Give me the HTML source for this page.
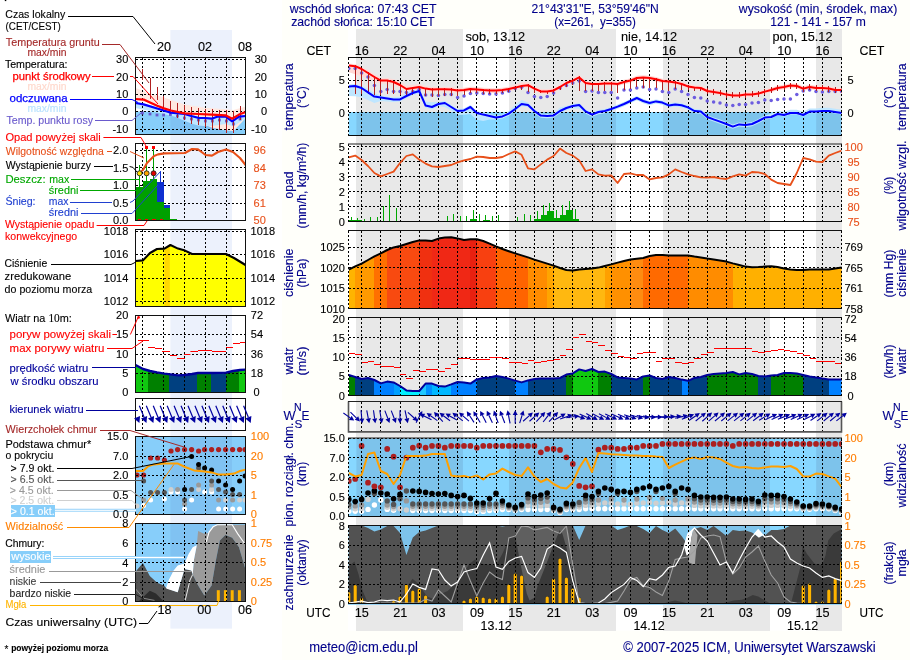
<!DOCTYPE html>
<html lang="pl"><head><meta charset="utf-8"><title>Meteogram ICM</title>
<style>
html,body{margin:0;padding:0;background:#fff;}
body{width:910px;height:660px;overflow:hidden;font-family:"Liberation Sans",sans-serif;}
svg{display:block;font-family:"Liberation Sans",sans-serif;will-change:transform;}
</style></head><body>
<svg width="910" height="660" viewBox="0 0 910 660">
<rect x="0" y="0" width="910" height="660" fill="#FFFFFF"/>
<rect x="282" y="0" width="628" height="660" fill="#FFFFFA"/>
<rect x="4.8" y="0" width="1.5" height="1.1" fill="#000"/>
<rect x="170.4" y="30" width="61.6" height="598.6" fill="#ECF1FC"/>
<rect x="348" y="29" width="494" height="601.5" fill="#FFFFFF"/>
<g shape-rendering="crispEdges">
<rect x="356.4" y="29" width="106.5" height="601.5" fill="#E8E8E8"/>
<rect x="509" y="29" width="107" height="601.5" fill="#E8E8E8"/>
<rect x="663" y="29" width="107" height="601.5" fill="#E8E8E8"/>
<rect x="816.2" y="29" width="25.8" height="601.5" fill="#E8E8E8"/>
</g>
<clipPath id="cT"><rect x="348.5" y="57.5" width="493" height="78"/></clipPath>
<g clip-path="url(#cT)">
<rect x="348.5" y="112" width="493" height="23.5" fill="#87D7FF"/>
<rect x="356.4" y="112" width="106.5" height="23.5" fill="#7DC3EB"/>
<rect x="509" y="112" width="107" height="23.5" fill="#7DC3EB"/>
<rect x="663" y="112" width="107" height="23.5" fill="#7DC3EB"/>
<rect x="816.2" y="112" width="25.3" height="23.5" fill="#7DC3EB"/>
<polygon points="348.8,84.4 355.2,84 361.6,86 368,89 374.4,92.9 380.8,95.4 387.2,96.4 393.6,97.6 400,96.7 406.4,92.9 412.8,90.3 419.2,88.3 425.6,101.5 432,102.2 438.4,102 444.8,101 451.2,105 457.6,109 464,108.4 470.4,105 476.8,111 483.2,112.6 489.6,114 496,115.4 502.4,114.4 508.8,110.9 515.2,105 521.6,100 528,102.5 534.4,109 540.8,113.6 547.2,114 553.6,113.4 560,107.6 566.4,106 572.8,104 579.2,103 585.6,109.4 592,112.6 598.4,110 604.8,109 611.2,107 617.6,104.6 624,102 630.4,99 636.8,96 643.2,99 649.6,101 656,99.4 662.4,100.6 668.8,103.4 675.2,102.4 681.6,103.2 688,105.4 694.4,109 700.8,109.6 707.2,115 713.6,117.4 720,119.6 726.4,122 732.8,124.6 739.2,122.4 745.6,123 752,122 758.4,119 764.8,115.6 771.2,113.8 777.6,110.8 784,111.8 790.4,109.8 796.8,109.8 803.2,111.8 809.6,108.4 816,108.4 822.4,107.8 828.8,107.8 835.2,108.8 841.6,109.8 841.6,114.6 835.2,113.6 828.8,112.6 822.4,112.6 816,113.2 809.6,113.2 803.2,116.6 796.8,114.6 790.4,114.6 784,116.6 777.6,115.6 771.2,118.6 764.8,119.8 758.4,123.2 752,126.2 745.6,127.2 739.2,126.6 732.8,128.8 726.4,126.2 720,123.8 713.6,121.6 707.2,119.2 700.8,113.8 694.4,113.2 688,109.6 681.6,107.4 675.2,106.6 668.8,107.6 662.4,104.8 656,103.6 649.6,105.2 643.2,103.2 636.8,100.2 630.4,103.2 624,106.2 617.6,108.8 611.2,111.2 604.8,113.2 598.4,114.2 592,116.8 585.6,113.6 579.2,108.7 572.8,108.2 566.4,110.2 560,113.2 553.6,117.6 547.2,118.2 540.8,117.8 534.4,113.2 528,107.2 521.6,106.2 515.2,111.2 508.8,115.8 502.4,118.6 496,119.6 489.6,119.4 483.2,121.1 476.8,119.8 470.4,114 464,114.8 457.6,115.1 451.2,110.4 444.8,107.1 438.4,106.2 432,109.2 425.6,107.8 419.2,93.2 412.8,95.2 406.4,98.2 400,101.6 393.6,102.1 387.2,101.4 380.8,101.1 374.4,103.1 368,99.9 361.6,97.3 355.2,96.2 348.8,95.9" fill="#BFE6FF"/>
<polygon points="348.8,63.4 355.2,64.2 361.6,66.8 368,70.3 374.4,74.3 380.8,77.9 387.2,78.1 393.6,79.3 400,81.6 406.4,85.8 412.8,85 419.2,84 425.6,86.3 432,87.1 438.4,86.9 444.8,86.9 451.2,87.1 457.6,88.1 464,87.7 470.4,86.7 476.8,87.1 483.2,87.7 489.6,88.1 496,88.3 502.4,87.7 508.8,86.7 515.2,84.6 521.6,82.6 528,82.2 534.4,86.3 540.8,89.1 547.2,89.3 553.6,88.1 560,84.7 566.4,80.7 572.8,78.3 579.2,75.1 585.6,80.7 592,81.7 598.4,81.7 604.8,81.1 611.2,81.1 617.6,81.7 624,79.7 630.4,78.3 636.8,75.7 643.2,75.3 649.6,75.7 656,76.9 662.4,78.7 668.8,79.3 675.2,80.1 681.6,81.7 688,84.1 694.4,85.3 700.8,85.7 707.2,88.7 713.6,89.7 720,90.7 726.4,92.3 732.8,93.1 739.2,93.1 745.6,92.3 752,92.1 758.4,91.3 764.8,89.3 771.2,87.7 777.6,85.7 784,84.7 790.4,83.3 796.8,83.7 803.2,86.3 809.6,84.7 816,85.7 822.4,85.7 828.8,86.3 835.2,87.7 841.6,87.7 841.6,92.3 835.2,92.3 828.8,90.9 822.4,90.3 816,90.3 809.6,89.3 803.2,90.9 796.8,88.3 790.4,87.9 784,89.3 777.6,90.3 771.2,92.3 764.8,93.9 758.4,95.9 752,96.7 745.6,96.9 739.2,97.7 732.8,97.7 726.4,96.9 720,95.3 713.6,94.3 707.2,93.3 700.8,90.3 694.4,89.9 688,88.7 681.6,86.3 675.2,84.7 668.8,83.9 662.4,83.3 656,81.5 649.6,80.3 643.2,79.9 636.8,80.3 630.4,82.9 624,84.3 617.6,86.3 611.2,85.7 604.8,85.7 598.4,86.3 592,86.3 585.6,85.3 579.2,79.7 572.8,82.9 566.4,85.3 560,89.3 553.6,92.7 547.2,93.9 540.8,93.7 534.4,90.9 528,87.5 521.6,88.3 515.2,89.9 508.8,91.3 502.4,92.3 496,92.9 489.6,92.7 483.2,92.3 476.8,91.7 470.4,91.3 464,92.3 457.6,92.7 451.2,91.7 444.8,91.5 438.4,91.5 432,91.7 425.6,90.9 419.2,89.3 412.8,90.3 406.4,91.3 400,87.8 393.6,84.8 387.2,83.7 380.8,83.4 374.4,81.8 368,78.5 361.6,76.5 355.2,74.2 348.8,72.2" fill="#FFD9D6"/>
</g>
<path d="M361.6 57.5V135.5M380.8 57.5V135.5M400 57.5V135.5M419.2 57.5V135.5M438.4 57.5V135.5M457.6 57.5V135.5M476.8 57.5V135.5M496 57.5V135.5M515.2 57.5V135.5M534.4 57.5V135.5M553.6 57.5V135.5M572.8 57.5V135.5M592 57.5V135.5M611.2 57.5V135.5M630.4 57.5V135.5M649.6 57.5V135.5M668.8 57.5V135.5M688 57.5V135.5M707.2 57.5V135.5M726.4 57.5V135.5M745.6 57.5V135.5M764.8 57.5V135.5M784 57.5V135.5M803.2 57.5V135.5M822.4 57.5V135.5M841.6 57.5V135.5M348.5 80.5H841.5M348.5 112.5H841.5" stroke="#000" stroke-width="1" stroke-dasharray="2 2" fill="none" shape-rendering="crispEdges"/>
<g clip-path="url(#cT)">
<circle cx="348.8" cy="68.6" r="1.75" fill="#6C5CE0"/>
<circle cx="355.2" cy="68.6" r="1.75" fill="#6C5CE0"/>
<circle cx="361.6" cy="73" r="1.75" fill="#6C5CE0"/>
<circle cx="368" cy="77" r="1.75" fill="#6C5CE0"/>
<circle cx="374.4" cy="85.6" r="1.75" fill="#6C5CE0"/>
<circle cx="380.8" cy="91.4" r="1.75" fill="#6C5CE0"/>
<circle cx="387.2" cy="89.4" r="1.75" fill="#6C5CE0"/>
<circle cx="393.6" cy="91.6" r="1.75" fill="#6C5CE0"/>
<circle cx="400" cy="91.6" r="1.75" fill="#6C5CE0"/>
<circle cx="406.4" cy="92.4" r="1.75" fill="#6C5CE0"/>
<circle cx="412.8" cy="91.6" r="1.75" fill="#6C5CE0"/>
<circle cx="419.2" cy="89.4" r="1.75" fill="#6C5CE0"/>
<circle cx="425.6" cy="95" r="1.75" fill="#6C5CE0"/>
<circle cx="432" cy="95" r="1.75" fill="#6C5CE0"/>
<circle cx="438.4" cy="95.4" r="1.75" fill="#6C5CE0"/>
<circle cx="444.8" cy="94.4" r="1.75" fill="#6C5CE0"/>
<circle cx="451.2" cy="94.4" r="1.75" fill="#6C5CE0"/>
<circle cx="457.6" cy="97.4" r="1.75" fill="#6C5CE0"/>
<circle cx="464" cy="96" r="1.75" fill="#6C5CE0"/>
<circle cx="470.4" cy="93.4" r="1.75" fill="#6C5CE0"/>
<circle cx="476.8" cy="93" r="1.75" fill="#6C5CE0"/>
<circle cx="483.2" cy="93.4" r="1.75" fill="#6C5CE0"/>
<circle cx="489.6" cy="94" r="1.75" fill="#6C5CE0"/>
<circle cx="496" cy="94" r="1.75" fill="#6C5CE0"/>
<circle cx="502.4" cy="93" r="1.75" fill="#6C5CE0"/>
<circle cx="508.8" cy="91.2" r="1.75" fill="#6C5CE0"/>
<circle cx="515.2" cy="88.6" r="1.75" fill="#6C5CE0"/>
<circle cx="521.6" cy="87.2" r="1.75" fill="#6C5CE0"/>
<circle cx="528" cy="92.4" r="1.75" fill="#6C5CE0"/>
<circle cx="534.4" cy="96.6" r="1.75" fill="#6C5CE0"/>
<circle cx="540.8" cy="97.4" r="1.75" fill="#6C5CE0"/>
<circle cx="547.2" cy="96.6" r="1.75" fill="#6C5CE0"/>
<circle cx="553.6" cy="93" r="1.75" fill="#6C5CE0"/>
<circle cx="560" cy="88" r="1.75" fill="#6C5CE0"/>
<circle cx="566.4" cy="85.6" r="1.75" fill="#6C5CE0"/>
<circle cx="572.8" cy="83" r="1.75" fill="#6C5CE0"/>
<circle cx="579.2" cy="81" r="1.75" fill="#6C5CE0"/>
<circle cx="585.6" cy="91.4" r="1.75" fill="#6C5CE0"/>
<circle cx="592" cy="91" r="1.75" fill="#6C5CE0"/>
<circle cx="598.4" cy="92.4" r="1.75" fill="#6C5CE0"/>
<circle cx="604.8" cy="92.4" r="1.75" fill="#6C5CE0"/>
<circle cx="611.2" cy="92.4" r="1.75" fill="#6C5CE0"/>
<circle cx="617.6" cy="98" r="1.75" fill="#6C5CE0"/>
<circle cx="624" cy="90" r="1.75" fill="#6C5CE0"/>
<circle cx="630.4" cy="90" r="1.75" fill="#6C5CE0"/>
<circle cx="636.8" cy="88" r="1.75" fill="#6C5CE0"/>
<circle cx="643.2" cy="87" r="1.75" fill="#6C5CE0"/>
<circle cx="649.6" cy="89.4" r="1.75" fill="#6C5CE0"/>
<circle cx="656" cy="89" r="1.75" fill="#6C5CE0"/>
<circle cx="662.4" cy="91.4" r="1.75" fill="#6C5CE0"/>
<circle cx="668.8" cy="92.6" r="1.75" fill="#6C5CE0"/>
<circle cx="675.2" cy="89" r="1.75" fill="#6C5CE0"/>
<circle cx="681.6" cy="91.6" r="1.75" fill="#6C5CE0"/>
<circle cx="688" cy="94.4" r="1.75" fill="#6C5CE0"/>
<circle cx="694.4" cy="97.4" r="1.75" fill="#6C5CE0"/>
<circle cx="700.8" cy="98" r="1.75" fill="#6C5CE0"/>
<circle cx="707.2" cy="101" r="1.75" fill="#6C5CE0"/>
<circle cx="713.6" cy="102" r="1.75" fill="#6C5CE0"/>
<circle cx="720" cy="103" r="1.75" fill="#6C5CE0"/>
<circle cx="726.4" cy="105" r="1.75" fill="#6C5CE0"/>
<circle cx="732.8" cy="105.4" r="1.75" fill="#6C5CE0"/>
<circle cx="739.2" cy="104.6" r="1.75" fill="#6C5CE0"/>
<circle cx="745.6" cy="104.4" r="1.75" fill="#6C5CE0"/>
<circle cx="752" cy="103" r="1.75" fill="#6C5CE0"/>
<circle cx="758.4" cy="102.4" r="1.75" fill="#6C5CE0"/>
<circle cx="764.8" cy="100" r="1.75" fill="#6C5CE0"/>
<circle cx="771.2" cy="100.4" r="1.75" fill="#6C5CE0"/>
<circle cx="777.6" cy="99.4" r="1.75" fill="#6C5CE0"/>
<circle cx="784" cy="99" r="1.75" fill="#6C5CE0"/>
<circle cx="790.4" cy="99" r="1.75" fill="#6C5CE0"/>
<circle cx="796.8" cy="94.4" r="1.75" fill="#6C5CE0"/>
<circle cx="803.2" cy="91" r="1.75" fill="#6C5CE0"/>
<circle cx="809.6" cy="90" r="1.75" fill="#6C5CE0"/>
<circle cx="816" cy="91.4" r="1.75" fill="#6C5CE0"/>
<circle cx="822.4" cy="92" r="1.75" fill="#6C5CE0"/>
<circle cx="828.8" cy="91.4" r="1.75" fill="#6C5CE0"/>
<circle cx="835.2" cy="91.4" r="1.75" fill="#6C5CE0"/>
<circle cx="841.6" cy="91.4" r="1.75" fill="#6C5CE0"/>
<path d="M355.5 65.2V94M361.5 68V94M368.5 72V94M374.5 76V95M380.5 79.6V95M387.5 79.6V94.4M393.5 81V94.4M400.5 84V95M406.5 88V96M412.5 87V95M419.5 86V93M425.5 87.6V96M432.5 88.4V97M438.5 88.2V96M444.5 88.2V95.6M451.5 88.4V96M457.5 89.4V96M464.5 89V95M470.5 88V93M476.5 88.4V93M483.5 89V94M489.5 89.4V94M496.5 89.6V94M502.5 89V93M508.5 88V92M515.5 86.6V90M521.5 85V90M528.5 84.2V92M534.5 87.6V93M540.5 90.4V93.4M547.5 90.6V93.6M553.5 89.4V93M560.5 86V90M566.5 82V87M572.5 79.6V85M579.5 76.4V91M585.5 82V91M592.5 83V91M598.5 83V91M604.5 82.4V91M611.5 82.4V91M617.5 83V93M624.5 81V90M630.5 79.6V89M636.5 77V87M643.5 76.6V88M649.5 77V88M656.5 78.2V88M662.5 80V90M668.5 80.6V91M675.5 81.4V89M681.5 83V90M688.5 85.4V90M694.5 86.6V91M700.5 87V91M707.5 88V94M713.5 89V95M720.5 90V96M726.5 91.6V97.6M732.5 92.4V98.4M739.5 92.4V98.4M745.5 91.6V97.6M752.5 91.4V97.4M758.5 90.6V96.6M764.5 88.6V94.6M771.5 87V93M777.5 85V91M784.5 84V90M790.5 82.6V88.6M796.5 83V89M803.5 85.6V91.6M809.5 84V90M816.5 85V91M822.5 85V91M828.5 85.6V91.6M835.5 87V93M841.5 87V93" stroke="#B02020" stroke-width="1" fill="none" shape-rendering="crispEdges"/>
<polyline points="348.8,86.4 355.2,86 361.6,88 368,92.4 374.4,96.6 380.8,97.4 387.2,98.4 393.6,99.6 400,99.4 406.4,96 412.8,93 419.2,91 425.6,105.6 432,107 438.4,104 444.8,103 451.2,107 457.6,111 464,110.4 470.4,107 476.8,113 483.2,114.6 489.6,116 496,117.4 502.4,116.4 508.8,113.6 515.2,109 521.6,104 528,105 534.4,111 540.8,115.6 547.2,116 553.6,115.4 560,111 566.4,108 572.8,106 579.2,105 585.6,111.4 592,114.6 598.4,112 604.8,111 611.2,109 617.6,106.6 624,104 630.4,101 636.8,98 643.2,101 649.6,103 656,101.4 662.4,102.6 668.8,105.4 675.2,104.4 681.6,105.2 688,107.4 694.4,111 700.8,111.6 707.2,117 713.6,119.4 720,121.6 726.4,124 732.8,126.6 739.2,124.4 745.6,125 752,124 758.4,121 764.8,117.6 771.2,117 777.6,114 784,115 790.4,113 796.8,113 803.2,115 809.6,111.6 816,111.6 822.4,111 828.8,111 835.2,112 841.6,113" fill="none" stroke="#0000FF" stroke-width="2" stroke-linejoin="round"/>
<polyline points="348.8,65.4 355.2,66.2 361.6,69 368,73 374.4,77 380.8,80.6 387.2,80.6 393.6,82 400,85 406.4,89 412.8,88 419.2,87 425.6,88.6 432,89.4 438.4,89.2 444.8,89.2 451.2,89.4 457.6,90.4 464,90 470.4,89 476.8,89.4 483.2,90 489.6,90.4 496,90.6 502.4,90 508.8,89 515.2,87.6 521.6,86 528,85.2 534.4,88.6 540.8,91.4 547.2,91.6 553.6,90.4 560,87 566.4,83 572.8,80.6 579.2,77.4 585.6,83 592,84 598.4,84 604.8,83.4 611.2,83.4 617.6,84 624,82 630.4,80.6 636.8,78 643.2,77.6 649.6,78 656,79.2 662.4,81 668.8,81.6 675.2,82.4 681.6,84 688,86.4 694.4,87.6 700.8,88 707.2,91 713.6,92 720,93 726.4,94.6 732.8,95.4 739.2,95.4 745.6,94.6 752,94.4 758.4,93.6 764.8,91.6 771.2,90 777.6,88 784,87 790.4,85.6 796.8,86 803.2,88.6 809.6,87 816,88 822.4,88 828.8,88.6 835.2,90 841.6,90" fill="none" stroke="#FF0000" stroke-width="2" stroke-linejoin="round"/>
</g>
<path d="M348.5 57.5V135.5M841.5 57.5V135.5" stroke="#000" stroke-width="1" stroke-dasharray="2 2" fill="none" shape-rendering="crispEdges"/>
<path d="M348 57.5H842" stroke="#111" stroke-width="1" fill="none" shape-rendering="crispEdges"/>
<path d="M348 135.5H842" stroke="#0a0a0a" stroke-width="1" fill="none" shape-rendering="crispEdges"/>
<clipPath id="cP"><rect x="348.5" y="143.5" width="493" height="78"/></clipPath>
<path d="M361.6 143.5V221.5M380.8 143.5V221.5M400 143.5V221.5M419.2 143.5V221.5M438.4 143.5V221.5M457.6 143.5V221.5M476.8 143.5V221.5M496 143.5V221.5M515.2 143.5V221.5M534.4 143.5V221.5M553.6 143.5V221.5M572.8 143.5V221.5M592 143.5V221.5M611.2 143.5V221.5M630.4 143.5V221.5M649.6 143.5V221.5M668.8 143.5V221.5M688 143.5V221.5M707.2 143.5V221.5M726.4 143.5V221.5M745.6 143.5V221.5M764.8 143.5V221.5M784 143.5V221.5M803.2 143.5V221.5M822.4 143.5V221.5M841.6 143.5V221.5M348.5 146.5H841.5M348.5 161.5H841.5M348.5 176.5H841.5M348.5 191.5H841.5M348.5 206.5H841.5" stroke="#000" stroke-width="1" stroke-dasharray="2 2" fill="none" shape-rendering="crispEdges"/>
<g clip-path="url(#cP)">
<rect x="348.8" y="220" width="6.4" height="1.5" fill="#00A800" shape-rendering="crispEdges"/>
<rect x="355.2" y="220.4" width="6.4" height="1.1" fill="#00A800" shape-rendering="crispEdges"/>
<rect x="470.4" y="219.4" width="6.4" height="2.1" fill="#00A800" shape-rendering="crispEdges"/>
<rect x="483.2" y="220.4" width="6.4" height="1.1" fill="#00A800" shape-rendering="crispEdges"/>
<rect x="534.4" y="219" width="6.4" height="2.5" fill="#00A800" shape-rendering="crispEdges"/>
<rect x="540.8" y="215" width="6.4" height="6.5" fill="#00A800" shape-rendering="crispEdges"/>
<rect x="547.2" y="211" width="6.4" height="10.5" fill="#00A800" shape-rendering="crispEdges"/>
<rect x="553.6" y="218" width="6.4" height="3.5" fill="#00A800" shape-rendering="crispEdges"/>
<rect x="560" y="215" width="6.4" height="6.5" fill="#00A800" shape-rendering="crispEdges"/>
<rect x="566.4" y="210" width="6.4" height="11.5" fill="#00A800" shape-rendering="crispEdges"/>
<rect x="572.8" y="219" width="6.4" height="2.5" fill="#00A800" shape-rendering="crispEdges"/>
<path d="M351.5 217.4V221.5M357.5 218V221.5M364.5 218.6V221.5M370.5 217.4V221.5M377.5 217.4V221.5M383.5 206V221.5M389.5 195.4V221.5M396.5 208.4V221.5M447.5 216.4V221.5M453.5 214.4V221.5M460.5 216.4V221.5M466.5 216.4V221.5M473.5 210.4V221.5M479.5 214.4V221.5M485.5 215.4V221.5M492.5 216.4V221.5M498.5 215.4V221.5M517.5 217.4V221.5M524.5 214.4V221.5M530.5 215.4V221.5M537.5 211.4V221.5M543.5 205V221.5M549.5 203.4V221.5M556.5 210.4V221.5M562.5 205.4V221.5M569.5 201V221.5M575.5 209.4V221.5" stroke="#00A800" stroke-width="1" fill="none" shape-rendering="crispEdges"/>
<polyline points="348.8,157.4 355.2,155.6 361.6,160 368,166 374.4,173 380.8,176.4 387.2,174 393.6,171.6 400,163 406.4,156 412.8,154.4 419.2,159.6 425.6,163.6 432,166.4 438.4,167 444.8,166 451.2,165 457.6,162.4 464,160.4 470.4,159 476.8,156.6 483.2,157 489.6,158 496,158 502.4,157 508.8,154 515.2,151.4 521.6,154.8 528,168.4 534.4,169.4 540.8,164.4 547.2,159.6 553.6,156 560,148.6 566.4,153 572.8,155.6 579.2,160.4 585.6,171 592,169.4 598.4,174.4 604.8,175.6 611.2,175.4 617.6,183 624,174 630.4,173.4 636.8,175 643.2,175 649.6,179.4 656,178 662.4,177.4 668.8,174.4 675.2,169.4 681.6,172 688,174.4 694.4,176 700.8,177.4 707.2,177.6 713.6,177 720,178.4 726.4,179 732.8,176.4 739.2,174.4 745.6,175.6 752,172 758.4,172.4 764.8,174 771.2,179.6 777.6,183 784,184 790.4,185 796.8,173 803.2,158 809.6,159.4 816,161.6 822.4,162 828.8,155.6 835.2,153 841.6,150.6" fill="none" stroke="#E8501A" stroke-width="1.8" stroke-linejoin="round"/>
</g>
<path d="M348.5 143.5V221.5M841.5 143.5V221.5" stroke="#000" stroke-width="1" stroke-dasharray="2 2" fill="none" shape-rendering="crispEdges"/>
<path d="M348 144H842" stroke="#222" stroke-width="1.1" fill="none"/>
<path d="M348 221.5H842" stroke="#0a0a0a" stroke-width="1" fill="none" shape-rendering="crispEdges"/>
<clipPath id="cQ"><polygon points="348.5,308.5 348.8,269.6 355.2,266.4 361.6,263.6 368,260 374.4,256.4 380.8,253.4 387.2,250 393.6,247.4 400,246 406.4,244 412.8,242 419.2,240.4 425.6,240.6 432,241 438.4,238.6 444.8,237.6 451.2,237.2 457.6,238.4 464,240 470.4,239.2 476.8,239.2 483.2,241 489.6,243.6 496,246.4 502.4,249 508.8,251.2 515.2,253.4 521.6,255.4 528,257.4 534.4,259.6 540.8,261.6 547.2,263.6 553.6,265.6 560,268 566.4,270 572.8,270.6 579.2,269.6 585.6,269 592,268.4 598.4,267.6 604.8,266 611.2,264.4 617.6,262.6 624,261 630.4,259.6 636.8,258.8 643.2,258 649.6,256 656,255 662.4,255 668.8,255.4 675.2,255.6 681.6,255.4 688,255.6 694.4,256.6 700.8,257.4 707.2,258.6 713.6,259.4 720,260.4 726.4,261.6 732.8,263.4 739.2,265 745.6,266.6 752,267.2 758.4,267 764.8,266.6 771.2,266.2 777.6,267 784,268.4 790.4,269.4 796.8,270 803.2,270 809.6,269.6 816,269.4 822.4,269.6 828.8,269.4 835.2,268.4 841.6,267.4 841.5,308.5"/></clipPath>
<g clip-path="url(#cQ)" shape-rendering="crispEdges">
<rect x="348.8" y="230.5" width="6.9" height="78" fill="#FFB400"/>
<rect x="355.2" y="230.5" width="19.7" height="78" fill="#FF9A00"/>
<rect x="374.4" y="230.5" width="13.3" height="78" fill="#FF7000"/>
<rect x="387.2" y="230.5" width="32.5" height="78" fill="#F84A10"/>
<rect x="419.2" y="230.5" width="13.3" height="78" fill="#F03010"/>
<rect x="432" y="230.5" width="38.9" height="78" fill="#F02815"/>
<rect x="470.4" y="230.5" width="6.9" height="78" fill="#E82010"/>
<rect x="476.8" y="230.5" width="19.7" height="78" fill="#F84010"/>
<rect x="496" y="230.5" width="32.5" height="78" fill="#FF6400"/>
<rect x="528" y="230.5" width="19.7" height="78" fill="#FF8C00"/>
<rect x="547.2" y="230.5" width="6.9" height="78" fill="#FFA500"/>
<rect x="553.6" y="230.5" width="51.7" height="78" fill="#FFB810"/>
<rect x="604.8" y="230.5" width="6.9" height="78" fill="#FFA000"/>
<rect x="611.2" y="230.5" width="19.7" height="78" fill="#FF9000"/>
<rect x="630.4" y="230.5" width="13.3" height="78" fill="#FF8C10"/>
<rect x="643.2" y="230.5" width="45.3" height="78" fill="#FF6A00"/>
<rect x="688" y="230.5" width="45.3" height="78" fill="#FF8C00"/>
<rect x="732.8" y="230.5" width="115.7" height="78" fill="#FFB000"/>
</g>
<path d="M361.6 230.5V308.5M380.8 230.5V308.5M400 230.5V308.5M419.2 230.5V308.5M438.4 230.5V308.5M457.6 230.5V308.5M476.8 230.5V308.5M496 230.5V308.5M515.2 230.5V308.5M534.4 230.5V308.5M553.6 230.5V308.5M572.8 230.5V308.5M592 230.5V308.5M611.2 230.5V308.5M630.4 230.5V308.5M649.6 230.5V308.5M668.8 230.5V308.5M688 230.5V308.5M707.2 230.5V308.5M726.4 230.5V308.5M745.6 230.5V308.5M764.8 230.5V308.5M784 230.5V308.5M803.2 230.5V308.5M822.4 230.5V308.5M841.6 230.5V308.5M348.5 247.5H841.5M348.5 267.5H841.5M348.5 288.5H841.5" stroke="#000" stroke-width="1" stroke-dasharray="2 2" fill="none" shape-rendering="crispEdges"/>
<polyline points="348.8,269.6 355.2,266.4 361.6,263.6 368,260 374.4,256.4 380.8,253.4 387.2,250 393.6,247.4 400,246 406.4,244 412.8,242 419.2,240.4 425.6,240.6 432,241 438.4,238.6 444.8,237.6 451.2,237.2 457.6,238.4 464,240 470.4,239.2 476.8,239.2 483.2,241 489.6,243.6 496,246.4 502.4,249 508.8,251.2 515.2,253.4 521.6,255.4 528,257.4 534.4,259.6 540.8,261.6 547.2,263.6 553.6,265.6 560,268 566.4,270 572.8,270.6 579.2,269.6 585.6,269 592,268.4 598.4,267.6 604.8,266 611.2,264.4 617.6,262.6 624,261 630.4,259.6 636.8,258.8 643.2,258 649.6,256 656,255 662.4,255 668.8,255.4 675.2,255.6 681.6,255.4 688,255.6 694.4,256.6 700.8,257.4 707.2,258.6 713.6,259.4 720,260.4 726.4,261.6 732.8,263.4 739.2,265 745.6,266.6 752,267.2 758.4,267 764.8,266.6 771.2,266.2 777.6,267 784,268.4 790.4,269.4 796.8,270 803.2,270 809.6,269.6 816,269.4 822.4,269.6 828.8,269.4 835.2,268.4 841.6,267.4" fill="none" stroke="#000" stroke-width="2" stroke-linejoin="round"/>
<path d="M348.5 230.5V308.5M841.5 230.5V308.5" stroke="#000" stroke-width="1" stroke-dasharray="2 2" fill="none" shape-rendering="crispEdges"/>
<path d="M348 230.5H842" stroke="#111" stroke-width="1" fill="none" shape-rendering="crispEdges"/>
<path d="M348 308.5H842" stroke="#0a0a0a" stroke-width="1" fill="none" shape-rendering="crispEdges"/>
<clipPath id="cW"><polygon points="348.5,395.5 348.8,375 355.2,377 361.6,379 368,378 374.4,380 380.8,383.4 387.2,381.6 393.6,382.4 400,386 406.4,390.4 412.8,391 419.2,391 425.6,383.6 432,383.6 438.4,386 444.8,386.6 451.2,384.4 457.6,382 464,382.6 470.4,383.6 476.8,379.4 483.2,378 489.6,377.4 496,376 502.4,377 508.8,378.6 515.2,380.6 521.6,382.4 528,380.4 534.4,379 540.8,378.6 547.2,378.6 553.6,378.4 560,378 566.4,374.6 572.8,373.4 579.2,369.4 585.6,371 592,369 598.4,372 604.8,371.6 611.2,374 617.6,377.4 624,378 630.4,378.6 636.8,379.4 643.2,376.4 649.6,375.4 656,378 662.4,379 668.8,377 675.2,378 681.6,379.6 688,380.8 694.4,378 700.8,377 707.2,375 713.6,374 720,373.4 726.4,373 732.8,372 739.2,374.4 745.6,373 752,374 758.4,376 764.8,376.4 771.2,375.6 777.6,375 784,373 790.4,373 796.8,373.6 803.2,375 809.6,376.4 816,377.4 822.4,378.6 828.8,379.4 835.2,379.6 841.6,379.4 841.5,395.5"/></clipPath>
<g clip-path="url(#cW)" shape-rendering="crispEdges">
<rect x="348.8" y="317.5" width="6.9" height="78" fill="#008000"/>
<rect x="355.2" y="317.5" width="19.7" height="78" fill="#004080"/>
<rect x="374.4" y="317.5" width="19.7" height="78" fill="#0080FF"/>
<rect x="393.6" y="317.5" width="6.9" height="78" fill="#00A0FF"/>
<rect x="400" y="317.5" width="19.7" height="78" fill="#00F0FF"/>
<rect x="419.2" y="317.5" width="6.9" height="78" fill="#20C8FF"/>
<rect x="425.6" y="317.5" width="6.9" height="78" fill="#0090FF"/>
<rect x="432" y="317.5" width="19.7" height="78" fill="#00B8FF"/>
<rect x="451.2" y="317.5" width="26.1" height="78" fill="#0080FF"/>
<rect x="476.8" y="317.5" width="38.9" height="78" fill="#004080"/>
<rect x="515.2" y="317.5" width="13.3" height="78" fill="#0080FF"/>
<rect x="528" y="317.5" width="38.9" height="78" fill="#004080"/>
<rect x="566.4" y="317.5" width="6.9" height="78" fill="#008000"/>
<rect x="572.8" y="317.5" width="26.1" height="78" fill="#10C810"/>
<rect x="598.4" y="317.5" width="13.3" height="78" fill="#008000"/>
<rect x="611.2" y="317.5" width="32.5" height="78" fill="#004080"/>
<rect x="643.2" y="317.5" width="6.9" height="78" fill="#008000"/>
<rect x="649.6" y="317.5" width="32.5" height="78" fill="#004080"/>
<rect x="681.6" y="317.5" width="6.9" height="78" fill="#0080FF"/>
<rect x="688" y="317.5" width="19.7" height="78" fill="#004080"/>
<rect x="707.2" y="317.5" width="51.7" height="78" fill="#008000"/>
<rect x="758.4" y="317.5" width="13.3" height="78" fill="#004080"/>
<rect x="771.2" y="317.5" width="32.5" height="78" fill="#008000"/>
<rect x="803.2" y="317.5" width="26.1" height="78" fill="#004080"/>
<rect x="828.8" y="317.5" width="19.7" height="78" fill="#0080FF"/>
</g>
<path d="M361.6 317.5V395.5M380.8 317.5V395.5M400 317.5V395.5M419.2 317.5V395.5M438.4 317.5V395.5M457.6 317.5V395.5M476.8 317.5V395.5M496 317.5V395.5M515.2 317.5V395.5M534.4 317.5V395.5M553.6 317.5V395.5M572.8 317.5V395.5M592 317.5V395.5M611.2 317.5V395.5M630.4 317.5V395.5M649.6 317.5V395.5M668.8 317.5V395.5M688 317.5V395.5M707.2 317.5V395.5M726.4 317.5V395.5M745.6 317.5V395.5M764.8 317.5V395.5M784 317.5V395.5M803.2 317.5V395.5M822.4 317.5V395.5M841.6 317.5V395.5M348.5 337.5H841.5M348.5 357.5H841.5M348.5 376.5H841.5" stroke="#000" stroke-width="1" stroke-dasharray="2 2" fill="none" shape-rendering="crispEdges"/>
<polyline points="348.8,375 355.2,377 361.6,379 368,378 374.4,380 380.8,383.4 387.2,381.6 393.6,382.4 400,386 406.4,390.4 412.8,391 419.2,391 425.6,383.6 432,383.6 438.4,386 444.8,386.6 451.2,384.4 457.6,382 464,382.6 470.4,383.6 476.8,379.4 483.2,378 489.6,377.4 496,376 502.4,377 508.8,378.6 515.2,380.6 521.6,382.4 528,380.4 534.4,379 540.8,378.6 547.2,378.6 553.6,378.4 560,378 566.4,374.6 572.8,373.4 579.2,369.4 585.6,371 592,369 598.4,372 604.8,371.6 611.2,374 617.6,377.4 624,378 630.4,378.6 636.8,379.4 643.2,376.4 649.6,375.4 656,378 662.4,379 668.8,377 675.2,378 681.6,379.6 688,380.8 694.4,378 700.8,377 707.2,375 713.6,374 720,373.4 726.4,373 732.8,372 739.2,374.4 745.6,373 752,374 758.4,376 764.8,376.4 771.2,375.6 777.6,375 784,373 790.4,373 796.8,373.6 803.2,375 809.6,376.4 816,377.4 822.4,378.6 828.8,379.4 835.2,379.6 841.6,379.4" fill="none" stroke="#00009C" stroke-width="2" stroke-linejoin="round"/>
<path d="M348.8 353.5H355.2M355.2 354.5H361.6M361.6 362.5H368M368 361.5H374.4M374.4 364.5H380.8M380.8 366.5H387.2M387.2 366.5H393.6M393.6 367.5H400M400 374.5H406.4M406.4 378.5H412.8M412.8 370.5H419.2M419.2 371.5H425.6M425.6 369.5H432M432 369.5H438.4M438.4 371.5H444.8M444.8 368.5H451.2M451.2 364.5H457.6M457.6 358.5H464M464 358.5H470.4M470.4 359.5H476.8M476.8 359.5H483.2M483.2 359.5H489.6M489.6 357.5H496M496 357.5H502.4M502.4 358.5H508.8M508.8 362.5H515.2M515.2 362.5H521.6M521.6 363.5H528M528 360.5H534.4M534.4 362.5H540.8M540.8 361.5H547.2M547.2 360.5H553.6M553.6 359.5H560M560 355.5H566.4M566.4 349.5H572.8M572.8 337.5H579.2M579.2 334.5H585.6M585.6 341.5H592M592 342.5H598.4M598.4 345.5H604.8M604.8 350.5H611.2M611.2 353.5H617.6M617.6 356.5H624M624 357.5H630.4M630.4 358.5H636.8M636.8 353.5H643.2M643.2 352.5H649.6M649.6 352.5H656M656 361.5H662.4M662.4 358.5H668.8M668.8 358.5H675.2M675.2 362.5H681.6M681.6 363.5H688M688 362.5H694.4M694.4 358.5H700.8M700.8 354.5H707.2M707.2 352.5H713.6M713.6 348.5H720M720 348.5H726.4M726.4 348.5H732.8M732.8 348.5H739.2M739.2 348.5H745.6M745.6 348.5H752M752 351.5H758.4M758.4 352.5H764.8M764.8 351.5H771.2M771.2 350.5H777.6M777.6 349.5H784M784 350.5H790.4M790.4 351.5H796.8M796.8 353.5H803.2M803.2 355.5H809.6M809.6 358.5H816M816 361.5H822.4M822.4 361.5H828.8M828.8 361.5H835.2M835.2 363.5H841.6" stroke="#FF0000" stroke-width="1" fill="none" shape-rendering="crispEdges"/>
<path d="M348.5 317.5V395.5M841.5 317.5V395.5" stroke="#000" stroke-width="1" stroke-dasharray="2 2" fill="none" shape-rendering="crispEdges"/>
<path d="M348 317.5H842" stroke="#111" stroke-width="1" fill="none" shape-rendering="crispEdges"/>
<path d="M348 395.5H842" stroke="#0a0a0a" stroke-width="1" fill="none" shape-rendering="crispEdges"/>
<path d="M361.6 401.5V432M380.8 401.5V432M400 401.5V432M419.2 401.5V432M438.4 401.5V432M457.6 401.5V432M476.8 401.5V432M496 401.5V432M515.2 401.5V432M534.4 401.5V432M553.6 401.5V432M572.8 401.5V432M592 401.5V432M611.2 401.5V432M630.4 401.5V432M649.6 401.5V432M668.8 401.5V432M688 401.5V432M707.2 401.5V432M726.4 401.5V432M745.6 401.5V432M764.8 401.5V432M784 401.5V432M803.2 401.5V432M822.4 401.5V432M841.6 401.5V432" stroke="#000" stroke-width="1" stroke-dasharray="2 2" fill="none" shape-rendering="crispEdges"/>
<path d="M348.5 401.5V431.9H841.5V401.5" stroke="#555" stroke-width="1.6" fill="none"/>
<path d="M348 401.5H842" stroke="#222" stroke-width="1" fill="none" shape-rendering="crispEdges"/>
<line x1="343.39" y1="413.01" x2="350.27" y2="417.83" stroke="#0000A0" stroke-width="1.1"/>
<polygon points="354.21,420.59 348.84,419.88 351.71,415.78" fill="#0000A0"/>
<line x1="350.45" y1="412.22" x2="356.49" y2="418.05" stroke="#0000A0" stroke-width="1.1"/>
<polygon points="359.95,421.38 354.76,419.85 358.23,416.25" fill="#0000A0"/>
<line x1="361.02" y1="410.23" x2="361.76" y2="418.59" stroke="#0000A0" stroke-width="1.1"/>
<polygon points="362.18,423.37 359.27,418.81 364.25,418.38" fill="#0000A0"/>
<line x1="366.74" y1="410.32" x2="368.34" y2="418.57" stroke="#0000A0" stroke-width="1.1"/>
<polygon points="369.26,423.28 365.89,419.04 370.8,418.09" fill="#0000A0"/>
<line x1="373.48" y1="410.26" x2="374.65" y2="418.58" stroke="#0000A0" stroke-width="1.1"/>
<polygon points="375.32,423.34 372.17,418.93 377.13,418.23" fill="#0000A0"/>
<line x1="379.77" y1="410.28" x2="381.08" y2="418.58" stroke="#0000A0" stroke-width="1.1"/>
<polygon points="381.83,423.32 378.61,418.97 383.55,418.19" fill="#0000A0"/>
<line x1="384.83" y1="410.64" x2="387.85" y2="418.48" stroke="#0000A0" stroke-width="1.1"/>
<polygon points="389.57,422.96 385.51,419.38 390.18,417.58" fill="#0000A0"/>
<line x1="391.23" y1="410.64" x2="394.25" y2="418.48" stroke="#0000A0" stroke-width="1.1"/>
<polygon points="395.97,422.96 391.91,419.38 396.58,417.58" fill="#0000A0"/>
<line x1="400" y1="410.2" x2="400" y2="418.6" stroke="#0000A0" stroke-width="1.1"/>
<polygon points="400,423.4 397.5,418.6 402.5,418.6" fill="#0000A0"/>
<line x1="405.03" y1="410.34" x2="406.77" y2="418.56" stroke="#0000A0" stroke-width="1.1"/>
<polygon points="407.77,423.26 404.33,419.08 409.22,418.04" fill="#0000A0"/>
<line x1="407.9" y1="412.38" x2="414.14" y2="418" stroke="#0000A0" stroke-width="1.1"/>
<polygon points="417.7,421.22 412.46,419.86 415.81,416.15" fill="#0000A0"/>
<line x1="416.1" y1="422.63" x2="420.05" y2="415.21" stroke="#0000A0" stroke-width="1.1"/>
<polygon points="422.3,410.97 422.25,416.38 417.84,414.04" fill="#0000A0"/>
<line x1="431.48" y1="419.8" x2="424" y2="415.98" stroke="#0000A0" stroke-width="1.1"/>
<polygon points="419.72,413.8 425.13,413.76 422.86,418.21" fill="#0000A0"/>
<line x1="437.41" y1="420.59" x2="430.53" y2="415.77" stroke="#0000A0" stroke-width="1.1"/>
<polygon points="426.59,413.01 431.96,413.72 429.09,417.82" fill="#0000A0"/>
<line x1="442.82" y1="421.7" x2="437.2" y2="415.46" stroke="#0000A0" stroke-width="1.1"/>
<polygon points="433.98,411.9 439.05,413.79 435.34,417.14" fill="#0000A0"/>
<line x1="450.07" y1="420.77" x2="443.36" y2="415.72" stroke="#0000A0" stroke-width="1.1"/>
<polygon points="439.53,412.83 444.87,413.72 441.86,417.71" fill="#0000A0"/>
<line x1="456.92" y1="420.1" x2="449.64" y2="415.9" stroke="#0000A0" stroke-width="1.1"/>
<polygon points="445.48,413.5 450.89,413.73 448.39,418.07" fill="#0000A0"/>
<line x1="462.8" y1="420.86" x2="456.18" y2="415.69" stroke="#0000A0" stroke-width="1.1"/>
<polygon points="452.4,412.74 457.72,413.72 454.64,417.66" fill="#0000A0"/>
<line x1="468.98" y1="421.13" x2="462.64" y2="415.62" stroke="#0000A0" stroke-width="1.1"/>
<polygon points="459.02,412.47 464.28,413.73 461,417.51" fill="#0000A0"/>
<line x1="473.99" y1="422.34" x2="469.42" y2="415.29" stroke="#0000A0" stroke-width="1.1"/>
<polygon points="466.81,411.26 471.52,413.93 467.32,416.65" fill="#0000A0"/>
<line x1="480.2" y1="422.46" x2="475.87" y2="415.26" stroke="#0000A0" stroke-width="1.1"/>
<polygon points="473.4,411.14 478.02,413.97 473.73,416.54" fill="#0000A0"/>
<line x1="486.2" y1="422.68" x2="482.38" y2="415.2" stroke="#0000A0" stroke-width="1.1"/>
<polygon points="480.2,410.92 484.61,414.06 480.16,416.33" fill="#0000A0"/>
<line x1="492.39" y1="422.78" x2="488.84" y2="415.17" stroke="#0000A0" stroke-width="1.1"/>
<polygon points="486.81,410.82 491.11,414.11 486.57,416.23" fill="#0000A0"/>
<line x1="498.15" y1="423.04" x2="495.41" y2="415.1" stroke="#0000A0" stroke-width="1.1"/>
<polygon points="493.85,410.56 497.78,414.28 493.05,415.91" fill="#0000A0"/>
<line x1="504.77" y1="422.96" x2="501.75" y2="415.12" stroke="#0000A0" stroke-width="1.1"/>
<polygon points="500.03,410.64 504.09,414.22 499.42,416.02" fill="#0000A0"/>
<line x1="510.06" y1="423.28" x2="508.46" y2="415.03" stroke="#0000A0" stroke-width="1.1"/>
<polygon points="507.54,410.32 510.91,414.56 506,415.51" fill="#0000A0"/>
<line x1="515.2" y1="423.4" x2="515.2" y2="415" stroke="#0000A0" stroke-width="1.1"/>
<polygon points="515.2,410.2 517.7,415 512.7,415" fill="#0000A0"/>
<line x1="519.67" y1="423.11" x2="522.13" y2="415.08" stroke="#0000A0" stroke-width="1.1"/>
<polygon points="523.53,410.49 524.52,415.81 519.74,414.35" fill="#0000A0"/>
<line x1="523.1" y1="421.22" x2="529.34" y2="415.6" stroke="#0000A0" stroke-width="1.1"/>
<polygon points="532.9,412.38 531.01,417.45 527.66,413.74" fill="#0000A0"/>
<line x1="529.5" y1="421.22" x2="535.74" y2="415.6" stroke="#0000A0" stroke-width="1.1"/>
<polygon points="539.3,412.38 537.41,417.45 534.06,413.74" fill="#0000A0"/>
<line x1="536.3" y1="421.63" x2="542.03" y2="415.48" stroke="#0000A0" stroke-width="1.1"/>
<polygon points="545.3,411.97 543.86,417.19 540.2,413.78" fill="#0000A0"/>
<line x1="543.14" y1="422" x2="548.31" y2="415.38" stroke="#0000A0" stroke-width="1.1"/>
<polygon points="551.26,411.6 550.28,416.92 546.34,413.84" fill="#0000A0"/>
<line x1="549.02" y1="421.55" x2="554.85" y2="415.51" stroke="#0000A0" stroke-width="1.1"/>
<polygon points="558.18,412.05 556.65,417.24 553.05,413.77" fill="#0000A0"/>
<line x1="554.28" y1="420.1" x2="561.56" y2="415.9" stroke="#0000A0" stroke-width="1.1"/>
<polygon points="565.72,413.5 562.81,418.07 560.31,413.73" fill="#0000A0"/>
<line x1="560.16" y1="418.95" x2="568.1" y2="416.21" stroke="#0000A0" stroke-width="1.1"/>
<polygon points="572.64,414.65 568.92,418.58 567.29,413.85" fill="#0000A0"/>
<line x1="566.26" y1="417.72" x2="574.58" y2="416.55" stroke="#0000A0" stroke-width="1.1"/>
<polygon points="579.34,415.88 574.93,419.03 574.23,414.07" fill="#0000A0"/>
<line x1="572.96" y1="414.65" x2="580.9" y2="417.39" stroke="#0000A0" stroke-width="1.1"/>
<polygon points="585.44,418.95 580.09,419.75 581.72,415.02" fill="#0000A0"/>
<line x1="579.62" y1="414.01" x2="587.23" y2="417.56" stroke="#0000A0" stroke-width="1.1"/>
<polygon points="591.58,419.59 586.17,419.83 588.29,415.29" fill="#0000A0"/>
<line x1="586.28" y1="413.5" x2="593.56" y2="417.7" stroke="#0000A0" stroke-width="1.1"/>
<polygon points="597.72,420.1 592.31,419.87 594.81,415.53" fill="#0000A0"/>
<line x1="592.52" y1="413.8" x2="600" y2="417.62" stroke="#0000A0" stroke-width="1.1"/>
<polygon points="604.28,419.8 598.87,419.84 601.14,415.39" fill="#0000A0"/>
<line x1="598.92" y1="413.8" x2="606.4" y2="417.62" stroke="#0000A0" stroke-width="1.1"/>
<polygon points="610.68,419.8 605.27,419.84 607.54,415.39" fill="#0000A0"/>
<line x1="605.22" y1="414.01" x2="612.83" y2="417.56" stroke="#0000A0" stroke-width="1.1"/>
<polygon points="617.18,419.59 611.77,419.83 613.89,415.29" fill="#0000A0"/>
<line x1="611.62" y1="414.01" x2="619.23" y2="417.56" stroke="#0000A0" stroke-width="1.1"/>
<polygon points="623.58,419.59 618.17,419.83 620.29,415.29" fill="#0000A0"/>
<line x1="617.92" y1="414.22" x2="625.66" y2="417.5" stroke="#0000A0" stroke-width="1.1"/>
<polygon points="630.08,419.38 624.68,419.8 626.63,415.2" fill="#0000A0"/>
<line x1="624.16" y1="414.65" x2="632.1" y2="417.39" stroke="#0000A0" stroke-width="1.1"/>
<polygon points="636.64,418.95 631.29,419.75 632.92,415.02" fill="#0000A0"/>
<line x1="630.42" y1="415.09" x2="638.54" y2="417.27" stroke="#0000A0" stroke-width="1.1"/>
<polygon points="643.18,418.51 637.89,419.68 639.19,414.85" fill="#0000A0"/>
<line x1="636.72" y1="415.54" x2="644.97" y2="417.14" stroke="#0000A0" stroke-width="1.1"/>
<polygon points="649.68,418.06 644.49,419.6 645.44,414.69" fill="#0000A0"/>
<line x1="643.05" y1="416" x2="651.39" y2="417.02" stroke="#0000A0" stroke-width="1.1"/>
<polygon points="656.15,417.6 651.08,419.5 651.69,414.54" fill="#0000A0"/>
<line x1="649.41" y1="416.45" x2="657.8" y2="416.89" stroke="#0000A0" stroke-width="1.1"/>
<polygon points="662.59,417.15 657.67,419.39 657.93,414.4" fill="#0000A0"/>
<line x1="655.8" y1="416.8" x2="664.2" y2="416.8" stroke="#0000A0" stroke-width="1.1"/>
<polygon points="669,416.8 664.2,419.3 664.2,414.3" fill="#0000A0"/>
<line x1="662.23" y1="417.38" x2="670.59" y2="416.64" stroke="#0000A0" stroke-width="1.1"/>
<polygon points="675.37,416.22 670.81,419.13 670.38,414.15" fill="#0000A0"/>
<line x1="668.66" y1="417.72" x2="676.98" y2="416.55" stroke="#0000A0" stroke-width="1.1"/>
<polygon points="681.74,415.88 677.33,419.03 676.63,414.07" fill="#0000A0"/>
<line x1="675.17" y1="418.28" x2="683.35" y2="416.4" stroke="#0000A0" stroke-width="1.1"/>
<polygon points="688.03,415.32 683.92,418.83 682.79,413.96" fill="#0000A0"/>
<line x1="681.88" y1="419.27" x2="689.67" y2="416.13" stroke="#0000A0" stroke-width="1.1"/>
<polygon points="694.12,414.33 690.61,418.44 688.73,413.81" fill="#0000A0"/>
<line x1="688.93" y1="420.49" x2="695.89" y2="415.79" stroke="#0000A0" stroke-width="1.1"/>
<polygon points="699.87,413.11 697.29,417.87 694.49,413.72" fill="#0000A0"/>
<line x1="695.67" y1="420.95" x2="702.2" y2="415.67" stroke="#0000A0" stroke-width="1.1"/>
<polygon points="705.93,412.65 703.77,417.61 700.63,413.72" fill="#0000A0"/>
<line x1="702.3" y1="421.22" x2="708.54" y2="415.6" stroke="#0000A0" stroke-width="1.1"/>
<polygon points="712.1,412.38 710.21,417.45 706.86,413.74" fill="#0000A0"/>
<line x1="708.62" y1="421.13" x2="714.96" y2="415.62" stroke="#0000A0" stroke-width="1.1"/>
<polygon points="718.58,412.47 716.6,417.51 713.32,413.73" fill="#0000A0"/>
<line x1="714.94" y1="421.04" x2="721.38" y2="415.64" stroke="#0000A0" stroke-width="1.1"/>
<polygon points="725.06,412.56 722.99,417.56 719.77,413.73" fill="#0000A0"/>
<line x1="721.27" y1="420.95" x2="727.8" y2="415.67" stroke="#0000A0" stroke-width="1.1"/>
<polygon points="731.53,412.65 729.37,417.61 726.23,413.72" fill="#0000A0"/>
<line x1="727.6" y1="420.86" x2="734.22" y2="415.69" stroke="#0000A0" stroke-width="1.1"/>
<polygon points="738,412.74 735.76,417.66 732.68,413.72" fill="#0000A0"/>
<line x1="734" y1="420.86" x2="740.62" y2="415.69" stroke="#0000A0" stroke-width="1.1"/>
<polygon points="744.4,412.74 742.16,417.66 739.08,413.72" fill="#0000A0"/>
<line x1="740.4" y1="420.86" x2="747.02" y2="415.69" stroke="#0000A0" stroke-width="1.1"/>
<polygon points="750.8,412.74 748.56,417.66 745.48,413.72" fill="#0000A0"/>
<line x1="746.8" y1="420.86" x2="753.42" y2="415.69" stroke="#0000A0" stroke-width="1.1"/>
<polygon points="757.2,412.74 754.96,417.66 751.88,413.72" fill="#0000A0"/>
<line x1="753.13" y1="420.77" x2="759.84" y2="415.72" stroke="#0000A0" stroke-width="1.1"/>
<polygon points="763.67,412.83 761.34,417.71 758.33,413.72" fill="#0000A0"/>
<line x1="759.14" y1="420.2" x2="766.34" y2="415.87" stroke="#0000A0" stroke-width="1.1"/>
<polygon points="770.46,413.4 767.63,418.02 765.06,413.73" fill="#0000A0"/>
<line x1="765.27" y1="419.69" x2="772.82" y2="416.01" stroke="#0000A0" stroke-width="1.1"/>
<polygon points="777.13,413.91 773.91,418.26 771.72,413.76" fill="#0000A0"/>
<line x1="771.57" y1="419.48" x2="779.24" y2="416.07" stroke="#0000A0" stroke-width="1.1"/>
<polygon points="783.63,414.12 780.26,418.35 778.23,413.78" fill="#0000A0"/>
<line x1="777.88" y1="419.27" x2="785.67" y2="416.13" stroke="#0000A0" stroke-width="1.1"/>
<polygon points="790.12,414.33 786.61,418.44 784.73,413.81" fill="#0000A0"/>
<line x1="784.28" y1="419.27" x2="792.07" y2="416.13" stroke="#0000A0" stroke-width="1.1"/>
<polygon points="796.52,414.33 793.01,418.44 791.13,413.81" fill="#0000A0"/>
<line x1="790.77" y1="419.48" x2="798.44" y2="416.07" stroke="#0000A0" stroke-width="1.1"/>
<polygon points="802.83,414.12 799.46,418.35 797.43,413.78" fill="#0000A0"/>
<line x1="797.17" y1="419.48" x2="804.84" y2="416.07" stroke="#0000A0" stroke-width="1.1"/>
<polygon points="809.23,414.12 805.86,418.35 803.83,413.78" fill="#0000A0"/>
<line x1="803.72" y1="419.8" x2="811.2" y2="415.98" stroke="#0000A0" stroke-width="1.1"/>
<polygon points="815.48,413.8 812.34,418.21 810.07,413.76" fill="#0000A0"/>
<line x1="810.53" y1="420.49" x2="817.49" y2="415.79" stroke="#0000A0" stroke-width="1.1"/>
<polygon points="821.47,413.11 818.89,417.87 816.09,413.72" fill="#0000A0"/>
<line x1="817.2" y1="420.86" x2="823.82" y2="415.69" stroke="#0000A0" stroke-width="1.1"/>
<polygon points="827.6,412.74 825.36,417.66 822.28,413.72" fill="#0000A0"/>
<line x1="823.67" y1="420.95" x2="830.2" y2="415.67" stroke="#0000A0" stroke-width="1.1"/>
<polygon points="833.93,412.65 831.77,417.61 828.63,413.72" fill="#0000A0"/>
<line x1="830.07" y1="420.95" x2="836.6" y2="415.67" stroke="#0000A0" stroke-width="1.1"/>
<polygon points="840.33,412.65 838.17,417.61 835.03,413.72" fill="#0000A0"/>
<line x1="836.4" y1="420.86" x2="843.02" y2="415.69" stroke="#0000A0" stroke-width="1.1"/>
<polygon points="846.8,412.74 844.56,417.66 841.48,413.72" fill="#0000A0"/>
<clipPath id="cB"><rect x="348.5" y="438.5" width="493" height="78"/></clipPath>
<rect x="348.5" y="438.5" width="493" height="78" fill="#87D7FF"/>
<rect x="356.4" y="438.5" width="106.5" height="78" fill="#7DC3EB"/>
<rect x="509" y="438.5" width="107" height="78" fill="#7DC3EB"/>
<rect x="663" y="438.5" width="107" height="78" fill="#7DC3EB"/>
<rect x="816.2" y="438.5" width="25.3" height="78" fill="#7DC3EB"/>
<g clip-path="url(#cB)">
<circle cx="348.8" cy="511.3" r="2.7" fill="#FFFFFF"/>
<circle cx="348.8" cy="507.3" r="2.7" fill="#999999"/>
<circle cx="348.8" cy="504.4" r="2.7" fill="#555555"/>
<circle cx="348.8" cy="499.4" r="2.8" fill="#000"/>
<circle cx="355.2" cy="511.3" r="2.7" fill="#FFFFFF"/>
<circle cx="355.2" cy="508.7" r="2.7" fill="#CFCFCF"/>
<circle cx="355.2" cy="505.9" r="2.7" fill="#999999"/>
<circle cx="355.2" cy="501.6" r="2.8" fill="#000"/>
<circle cx="361.6" cy="511.3" r="2.7" fill="#FFFFFF"/>
<circle cx="361.6" cy="508.7" r="2.7" fill="#CFCFCF"/>
<circle cx="361.6" cy="505" r="2.7" fill="#999999"/>
<circle cx="361.6" cy="499.4" r="2.8" fill="#000"/>
<circle cx="368" cy="509.4" r="2.7" fill="#FFFFFF"/>
<circle cx="368" cy="499.4" r="2.7" fill="#CFCFCF"/>
<circle cx="368" cy="493" r="2.8" fill="#000"/>
<circle cx="374.4" cy="505" r="2.7" fill="#FFFFFF"/>
<circle cx="374.4" cy="493.5" r="2.7" fill="#555555"/>
<circle cx="374.4" cy="490.9" r="2.8" fill="#000"/>
<circle cx="380.8" cy="500" r="2.7" fill="#FFFFFF"/>
<circle cx="380.8" cy="493" r="2.8" fill="#000"/>
<circle cx="387.2" cy="509.4" r="2.7" fill="#FFFFFF"/>
<circle cx="387.2" cy="507.3" r="2.7" fill="#CFCFCF"/>
<circle cx="387.2" cy="505" r="2.7" fill="#999999"/>
<circle cx="387.2" cy="500.9" r="2.7" fill="#555555"/>
<circle cx="387.2" cy="494" r="2.8" fill="#000"/>
<circle cx="393.6" cy="510.3" r="2.7" fill="#FFFFFF"/>
<circle cx="393.6" cy="508.7" r="2.7" fill="#CFCFCF"/>
<circle cx="393.6" cy="506.6" r="2.7" fill="#999999"/>
<circle cx="393.6" cy="504.4" r="2.7" fill="#555555"/>
<circle cx="393.6" cy="498.7" r="2.8" fill="#000"/>
<circle cx="400" cy="508.7" r="2.7" fill="#CFCFCF"/>
<circle cx="400" cy="498.7" r="2.7" fill="#555555"/>
<circle cx="400" cy="494.4" r="2.8" fill="#000"/>
<circle cx="406.4" cy="510" r="2.7" fill="#CFCFCF"/>
<circle cx="406.4" cy="500.9" r="2.7" fill="#999999"/>
<circle cx="406.4" cy="491" r="2.7" fill="#555555"/>
<circle cx="412.8" cy="510.5" r="2.7" fill="#FFFFFF"/>
<circle cx="412.8" cy="508.4" r="2.7" fill="#CFCFCF"/>
<circle cx="412.8" cy="506.3" r="2.7" fill="#999999"/>
<circle cx="412.8" cy="504" r="2.7" fill="#555555"/>
<circle cx="412.8" cy="491" r="2.8" fill="#000"/>
<circle cx="419.2" cy="510.5" r="2.7" fill="#FFFFFF"/>
<circle cx="419.2" cy="508.4" r="2.7" fill="#CFCFCF"/>
<circle cx="419.2" cy="506.3" r="2.7" fill="#999999"/>
<circle cx="419.2" cy="504" r="2.7" fill="#555555"/>
<circle cx="419.2" cy="491.4" r="2.8" fill="#000"/>
<circle cx="425.6" cy="510.5" r="2.7" fill="#FFFFFF"/>
<circle cx="425.6" cy="508.4" r="2.7" fill="#CFCFCF"/>
<circle cx="425.6" cy="506.3" r="2.7" fill="#999999"/>
<circle cx="425.6" cy="504" r="2.7" fill="#555555"/>
<circle cx="425.6" cy="492.4" r="2.8" fill="#000"/>
<circle cx="432" cy="510.5" r="2.7" fill="#FFFFFF"/>
<circle cx="432" cy="508.4" r="2.7" fill="#CFCFCF"/>
<circle cx="432" cy="506.3" r="2.7" fill="#999999"/>
<circle cx="432" cy="504" r="2.7" fill="#555555"/>
<circle cx="432" cy="493.6" r="2.8" fill="#000"/>
<circle cx="438.4" cy="510.5" r="2.7" fill="#FFFFFF"/>
<circle cx="438.4" cy="508.4" r="2.7" fill="#CFCFCF"/>
<circle cx="438.4" cy="506.3" r="2.7" fill="#999999"/>
<circle cx="438.4" cy="504" r="2.7" fill="#555555"/>
<circle cx="438.4" cy="494" r="2.8" fill="#000"/>
<circle cx="444.8" cy="510.5" r="2.7" fill="#FFFFFF"/>
<circle cx="444.8" cy="508.4" r="2.7" fill="#CFCFCF"/>
<circle cx="444.8" cy="506.3" r="2.7" fill="#999999"/>
<circle cx="444.8" cy="504" r="2.7" fill="#555555"/>
<circle cx="444.8" cy="493.6" r="2.8" fill="#000"/>
<circle cx="451.2" cy="510.5" r="2.7" fill="#FFFFFF"/>
<circle cx="451.2" cy="508.4" r="2.7" fill="#CFCFCF"/>
<circle cx="451.2" cy="506.3" r="2.7" fill="#999999"/>
<circle cx="451.2" cy="504" r="2.7" fill="#555555"/>
<circle cx="451.2" cy="495.4" r="2.8" fill="#000"/>
<circle cx="457.6" cy="510.5" r="2.7" fill="#FFFFFF"/>
<circle cx="457.6" cy="508.4" r="2.7" fill="#CFCFCF"/>
<circle cx="457.6" cy="506.3" r="2.7" fill="#999999"/>
<circle cx="457.6" cy="504" r="2.7" fill="#555555"/>
<circle cx="457.6" cy="496.6" r="2.8" fill="#000"/>
<circle cx="464" cy="510.5" r="2.7" fill="#FFFFFF"/>
<circle cx="464" cy="508.4" r="2.7" fill="#CFCFCF"/>
<circle cx="464" cy="506.3" r="2.7" fill="#999999"/>
<circle cx="464" cy="504" r="2.7" fill="#555555"/>
<circle cx="464" cy="495.4" r="2.8" fill="#000"/>
<circle cx="470.4" cy="510.5" r="2.7" fill="#FFFFFF"/>
<circle cx="470.4" cy="508.4" r="2.7" fill="#CFCFCF"/>
<circle cx="470.4" cy="506.3" r="2.7" fill="#999999"/>
<circle cx="470.4" cy="504" r="2.7" fill="#555555"/>
<circle cx="470.4" cy="498.4" r="2.8" fill="#000"/>
<circle cx="476.8" cy="511.4" r="2.7" fill="#FFFFFF"/>
<circle cx="476.8" cy="509.9" r="2.7" fill="#CFCFCF"/>
<circle cx="476.8" cy="507.6" r="2.7" fill="#999999"/>
<circle cx="476.8" cy="505.3" r="2.7" fill="#555555"/>
<circle cx="476.8" cy="503" r="2.8" fill="#000"/>
<circle cx="483.2" cy="511.4" r="2.7" fill="#FFFFFF"/>
<circle cx="483.2" cy="509.9" r="2.7" fill="#CFCFCF"/>
<circle cx="483.2" cy="507.6" r="2.7" fill="#999999"/>
<circle cx="483.2" cy="505.3" r="2.7" fill="#555555"/>
<circle cx="483.2" cy="503" r="2.8" fill="#000"/>
<circle cx="489.6" cy="510.5" r="2.7" fill="#FFFFFF"/>
<circle cx="489.6" cy="508.4" r="2.7" fill="#CFCFCF"/>
<circle cx="489.6" cy="506.3" r="2.7" fill="#999999"/>
<circle cx="489.6" cy="504" r="2.7" fill="#555555"/>
<circle cx="489.6" cy="498.6" r="2.8" fill="#000"/>
<circle cx="496" cy="510.5" r="2.7" fill="#FFFFFF"/>
<circle cx="496" cy="508.4" r="2.7" fill="#CFCFCF"/>
<circle cx="496" cy="506.3" r="2.7" fill="#999999"/>
<circle cx="496" cy="504" r="2.7" fill="#555555"/>
<circle cx="496" cy="493.4" r="2.8" fill="#000"/>
<circle cx="502.4" cy="509.5" r="2.7" fill="#FFFFFF"/>
<circle cx="502.4" cy="507.38" r="2.7" fill="#CFCFCF"/>
<circle cx="502.4" cy="505.25" r="2.7" fill="#999999"/>
<circle cx="502.4" cy="503.12" r="2.7" fill="#555555"/>
<circle cx="502.4" cy="501" r="2.8" fill="#000"/>
<circle cx="508.8" cy="509.5" r="2.7" fill="#FFFFFF"/>
<circle cx="508.8" cy="508.38" r="2.7" fill="#CFCFCF"/>
<circle cx="508.8" cy="507.25" r="2.7" fill="#999999"/>
<circle cx="508.8" cy="506.12" r="2.7" fill="#555555"/>
<circle cx="508.8" cy="505" r="2.8" fill="#000"/>
<circle cx="515.2" cy="510.6" r="2.7" fill="#FFFFFF"/>
<circle cx="515.2" cy="509.8" r="2.7" fill="#CFCFCF"/>
<circle cx="515.2" cy="509" r="2.7" fill="#999999"/>
<circle cx="515.2" cy="508.2" r="2.7" fill="#555555"/>
<circle cx="515.2" cy="507.4" r="2.8" fill="#000"/>
<circle cx="521.6" cy="509.5" r="2.7" fill="#FFFFFF"/>
<circle cx="521.6" cy="508.27" r="2.7" fill="#CFCFCF"/>
<circle cx="521.6" cy="507.05" r="2.7" fill="#999999"/>
<circle cx="521.6" cy="505.83" r="2.7" fill="#555555"/>
<circle cx="521.6" cy="504.6" r="2.8" fill="#000"/>
<circle cx="528" cy="509.5" r="2.7" fill="#FFFFFF"/>
<circle cx="528" cy="505.62" r="2.7" fill="#CFCFCF"/>
<circle cx="528" cy="501.75" r="2.7" fill="#999999"/>
<circle cx="528" cy="497.88" r="2.7" fill="#555555"/>
<circle cx="528" cy="494" r="2.8" fill="#000"/>
<circle cx="534.4" cy="509.5" r="2.7" fill="#FFFFFF"/>
<circle cx="534.4" cy="506.27" r="2.7" fill="#CFCFCF"/>
<circle cx="534.4" cy="503.05" r="2.7" fill="#999999"/>
<circle cx="534.4" cy="499.83" r="2.7" fill="#555555"/>
<circle cx="534.4" cy="496.6" r="2.8" fill="#000"/>
<circle cx="540.8" cy="509.5" r="2.7" fill="#FFFFFF"/>
<circle cx="540.8" cy="505.88" r="2.7" fill="#CFCFCF"/>
<circle cx="540.8" cy="502.25" r="2.7" fill="#999999"/>
<circle cx="540.8" cy="498.62" r="2.7" fill="#555555"/>
<circle cx="540.8" cy="495" r="2.8" fill="#000"/>
<circle cx="547.2" cy="509.5" r="2.7" fill="#FFFFFF"/>
<circle cx="547.2" cy="505.38" r="2.7" fill="#CFCFCF"/>
<circle cx="547.2" cy="501.25" r="2.7" fill="#999999"/>
<circle cx="547.2" cy="497.12" r="2.7" fill="#555555"/>
<circle cx="547.2" cy="493" r="2.8" fill="#000"/>
<circle cx="553.6" cy="510.6" r="2.7" fill="#FFFFFF"/>
<circle cx="553.6" cy="509.8" r="2.7" fill="#CFCFCF"/>
<circle cx="553.6" cy="509" r="2.7" fill="#999999"/>
<circle cx="553.6" cy="508.2" r="2.7" fill="#555555"/>
<circle cx="553.6" cy="507.4" r="2.8" fill="#000"/>
<circle cx="560" cy="512.6" r="2.7" fill="#FFFFFF"/>
<circle cx="560" cy="511.8" r="2.7" fill="#CFCFCF"/>
<circle cx="560" cy="511" r="2.7" fill="#999999"/>
<circle cx="560" cy="510.2" r="2.7" fill="#555555"/>
<circle cx="560" cy="509.4" r="2.8" fill="#000"/>
<circle cx="566.4" cy="509.5" r="2.7" fill="#FFFFFF"/>
<circle cx="566.4" cy="507.98" r="2.7" fill="#CFCFCF"/>
<circle cx="566.4" cy="506.45" r="2.7" fill="#999999"/>
<circle cx="566.4" cy="504.92" r="2.7" fill="#555555"/>
<circle cx="566.4" cy="503.4" r="2.8" fill="#000"/>
<circle cx="572.8" cy="509.5" r="2.7" fill="#FFFFFF"/>
<circle cx="572.8" cy="508.12" r="2.7" fill="#CFCFCF"/>
<circle cx="572.8" cy="506.75" r="2.7" fill="#999999"/>
<circle cx="572.8" cy="505.38" r="2.7" fill="#555555"/>
<circle cx="572.8" cy="504" r="2.8" fill="#000"/>
<circle cx="579.2" cy="509.5" r="2.7" fill="#FFFFFF"/>
<circle cx="579.2" cy="507.12" r="2.7" fill="#CFCFCF"/>
<circle cx="579.2" cy="504.75" r="2.7" fill="#999999"/>
<circle cx="579.2" cy="502.38" r="2.7" fill="#555555"/>
<circle cx="585.6" cy="508.7" r="2.7" fill="#FFFFFF"/>
<circle cx="585.6" cy="505.38" r="2.7" fill="#CFCFCF"/>
<circle cx="585.6" cy="502.05" r="2.7" fill="#999999"/>
<circle cx="585.6" cy="498.72" r="2.7" fill="#555555"/>
<circle cx="585.6" cy="495.4" r="2.8" fill="#000"/>
<circle cx="592" cy="508.7" r="2.7" fill="#FFFFFF"/>
<circle cx="592" cy="505.68" r="2.7" fill="#CFCFCF"/>
<circle cx="592" cy="502.65" r="2.7" fill="#999999"/>
<circle cx="592" cy="499.62" r="2.7" fill="#555555"/>
<circle cx="592" cy="496.6" r="2.8" fill="#000"/>
<circle cx="598.4" cy="508.7" r="2.7" fill="#FFFFFF"/>
<circle cx="598.4" cy="503.86" r="2.7" fill="#CFCFCF"/>
<circle cx="598.4" cy="500.05" r="2.7" fill="#999999"/>
<circle cx="598.4" cy="493.6" r="2.7" fill="#555555"/>
<circle cx="598.4" cy="491.4" r="2.8" fill="#000"/>
<circle cx="604.8" cy="508.7" r="2.7" fill="#FFFFFF"/>
<circle cx="604.8" cy="502.9" r="2.7" fill="#CFCFCF"/>
<circle cx="604.8" cy="488" r="2.8" fill="#000"/>
<circle cx="611.2" cy="508.7" r="2.7" fill="#FFFFFF"/>
<circle cx="611.2" cy="503.3" r="2.7" fill="#CFCFCF"/>
<circle cx="611.2" cy="499.05" r="2.7" fill="#999999"/>
<circle cx="611.2" cy="489.4" r="2.8" fill="#000"/>
<circle cx="617.6" cy="508.7" r="2.7" fill="#FFFFFF"/>
<circle cx="617.6" cy="503.86" r="2.7" fill="#CFCFCF"/>
<circle cx="617.6" cy="493.6" r="2.7" fill="#555555"/>
<circle cx="617.6" cy="491.4" r="2.8" fill="#000"/>
<circle cx="624" cy="508.7" r="2.7" fill="#FFFFFF"/>
<circle cx="624" cy="503.86" r="2.7" fill="#CFCFCF"/>
<circle cx="624" cy="500.05" r="2.7" fill="#999999"/>
<circle cx="624" cy="491.4" r="2.8" fill="#000"/>
<circle cx="630.4" cy="508.7" r="2.7" fill="#FFFFFF"/>
<circle cx="630.4" cy="504.14" r="2.7" fill="#CFCFCF"/>
<circle cx="630.4" cy="492.4" r="2.8" fill="#000"/>
<circle cx="636.8" cy="508.7" r="2.7" fill="#FFFFFF"/>
<circle cx="636.8" cy="503.3" r="2.7" fill="#CFCFCF"/>
<circle cx="636.8" cy="499.05" r="2.7" fill="#999999"/>
<circle cx="636.8" cy="491.6" r="2.7" fill="#555555"/>
<circle cx="636.8" cy="489.4" r="2.8" fill="#000"/>
<circle cx="643.2" cy="508.7" r="2.7" fill="#FFFFFF"/>
<circle cx="643.2" cy="502.9" r="2.7" fill="#CFCFCF"/>
<circle cx="643.2" cy="488" r="2.8" fill="#000"/>
<circle cx="649.6" cy="508.7" r="2.7" fill="#FFFFFF"/>
<circle cx="649.6" cy="502.46" r="2.7" fill="#CFCFCF"/>
<circle cx="649.6" cy="497.55" r="2.7" fill="#999999"/>
<circle cx="649.6" cy="486.4" r="2.8" fill="#000"/>
<circle cx="656" cy="508.7" r="2.7" fill="#FFFFFF"/>
<circle cx="656" cy="503.3" r="2.7" fill="#CFCFCF"/>
<circle cx="656" cy="491.6" r="2.7" fill="#555555"/>
<circle cx="656" cy="489.4" r="2.8" fill="#000"/>
<circle cx="662.4" cy="508.7" r="2.7" fill="#FFFFFF"/>
<circle cx="662.4" cy="502.9" r="2.7" fill="#CFCFCF"/>
<circle cx="662.4" cy="498.35" r="2.7" fill="#999999"/>
<circle cx="662.4" cy="488" r="2.8" fill="#000"/>
<circle cx="668.8" cy="508.7" r="2.7" fill="#FFFFFF"/>
<circle cx="668.8" cy="502.46" r="2.7" fill="#CFCFCF"/>
<circle cx="668.8" cy="486.4" r="2.8" fill="#000"/>
<circle cx="675.2" cy="508.7" r="2.7" fill="#FFFFFF"/>
<circle cx="675.2" cy="503.86" r="2.7" fill="#CFCFCF"/>
<circle cx="675.2" cy="500.05" r="2.7" fill="#999999"/>
<circle cx="675.2" cy="493.6" r="2.7" fill="#555555"/>
<circle cx="675.2" cy="491.4" r="2.8" fill="#000"/>
<circle cx="681.6" cy="508.7" r="2.7" fill="#FFFFFF"/>
<circle cx="681.6" cy="502.9" r="2.7" fill="#CFCFCF"/>
<circle cx="681.6" cy="488" r="2.8" fill="#000"/>
<circle cx="688" cy="508.7" r="2.7" fill="#FFFFFF"/>
<circle cx="688" cy="503.3" r="2.7" fill="#CFCFCF"/>
<circle cx="688" cy="499.05" r="2.7" fill="#999999"/>
<circle cx="688" cy="489.4" r="2.8" fill="#000"/>
<circle cx="694.4" cy="508.7" r="2.7" fill="#FFFFFF"/>
<circle cx="694.4" cy="505.38" r="2.7" fill="#CFCFCF"/>
<circle cx="694.4" cy="502.05" r="2.7" fill="#999999"/>
<circle cx="694.4" cy="498.72" r="2.7" fill="#555555"/>
<circle cx="694.4" cy="495.4" r="2.8" fill="#000"/>
<circle cx="700.8" cy="508.7" r="2.7" fill="#FFFFFF"/>
<circle cx="700.8" cy="505.77" r="2.7" fill="#CFCFCF"/>
<circle cx="700.8" cy="502.85" r="2.7" fill="#999999"/>
<circle cx="700.8" cy="499.93" r="2.7" fill="#555555"/>
<circle cx="700.8" cy="497" r="2.8" fill="#000"/>
<circle cx="707.2" cy="508.7" r="2.7" fill="#FFFFFF"/>
<circle cx="707.2" cy="505.77" r="2.7" fill="#CFCFCF"/>
<circle cx="707.2" cy="502.85" r="2.7" fill="#999999"/>
<circle cx="707.2" cy="499.93" r="2.7" fill="#555555"/>
<circle cx="707.2" cy="497" r="2.8" fill="#000"/>
<circle cx="713.6" cy="508.7" r="2.7" fill="#FFFFFF"/>
<circle cx="713.6" cy="505.88" r="2.7" fill="#CFCFCF"/>
<circle cx="713.6" cy="503.05" r="2.7" fill="#999999"/>
<circle cx="713.6" cy="500.22" r="2.7" fill="#555555"/>
<circle cx="713.6" cy="497.4" r="2.8" fill="#000"/>
<circle cx="720" cy="508.7" r="2.7" fill="#FFFFFF"/>
<circle cx="720" cy="505.88" r="2.7" fill="#CFCFCF"/>
<circle cx="720" cy="503.05" r="2.7" fill="#999999"/>
<circle cx="720" cy="500.22" r="2.7" fill="#555555"/>
<circle cx="720" cy="497.4" r="2.8" fill="#000"/>
<circle cx="726.4" cy="508.7" r="2.7" fill="#FFFFFF"/>
<circle cx="726.4" cy="505.77" r="2.7" fill="#CFCFCF"/>
<circle cx="726.4" cy="502.85" r="2.7" fill="#999999"/>
<circle cx="726.4" cy="499.93" r="2.7" fill="#555555"/>
<circle cx="726.4" cy="497" r="2.8" fill="#000"/>
<circle cx="732.8" cy="508.7" r="2.7" fill="#FFFFFF"/>
<circle cx="732.8" cy="506.27" r="2.7" fill="#CFCFCF"/>
<circle cx="732.8" cy="503.85" r="2.7" fill="#999999"/>
<circle cx="732.8" cy="501.43" r="2.7" fill="#555555"/>
<circle cx="732.8" cy="499" r="2.8" fill="#000"/>
<circle cx="739.2" cy="508.7" r="2.7" fill="#FFFFFF"/>
<circle cx="739.2" cy="506.27" r="2.7" fill="#CFCFCF"/>
<circle cx="739.2" cy="503.85" r="2.7" fill="#999999"/>
<circle cx="739.2" cy="501.43" r="2.7" fill="#555555"/>
<circle cx="739.2" cy="499" r="2.8" fill="#000"/>
<circle cx="745.6" cy="508.7" r="2.7" fill="#FFFFFF"/>
<circle cx="745.6" cy="506.38" r="2.7" fill="#CFCFCF"/>
<circle cx="745.6" cy="504.05" r="2.7" fill="#999999"/>
<circle cx="745.6" cy="501.72" r="2.7" fill="#555555"/>
<circle cx="745.6" cy="499.4" r="2.8" fill="#000"/>
<circle cx="752" cy="508.7" r="2.7" fill="#FFFFFF"/>
<circle cx="752" cy="506.27" r="2.7" fill="#CFCFCF"/>
<circle cx="752" cy="503.85" r="2.7" fill="#999999"/>
<circle cx="752" cy="501.43" r="2.7" fill="#555555"/>
<circle cx="752" cy="499" r="2.8" fill="#000"/>
<circle cx="758.4" cy="508.7" r="2.7" fill="#FFFFFF"/>
<circle cx="758.4" cy="506.88" r="2.7" fill="#CFCFCF"/>
<circle cx="758.4" cy="505.05" r="2.7" fill="#999999"/>
<circle cx="758.4" cy="503.22" r="2.7" fill="#555555"/>
<circle cx="758.4" cy="501.4" r="2.8" fill="#000"/>
<circle cx="764.8" cy="508.7" r="2.7" fill="#FFFFFF"/>
<circle cx="764.8" cy="505.27" r="2.7" fill="#CFCFCF"/>
<circle cx="764.8" cy="501.85" r="2.7" fill="#999999"/>
<circle cx="764.8" cy="498.43" r="2.7" fill="#555555"/>
<circle cx="764.8" cy="495" r="2.8" fill="#000"/>
<circle cx="771.2" cy="508.7" r="2.7" fill="#FFFFFF"/>
<circle cx="771.2" cy="505.38" r="2.7" fill="#CFCFCF"/>
<circle cx="771.2" cy="502.05" r="2.7" fill="#999999"/>
<circle cx="771.2" cy="498.72" r="2.7" fill="#555555"/>
<circle cx="771.2" cy="495.4" r="2.8" fill="#000"/>
<circle cx="777.6" cy="508.7" r="2.7" fill="#FFFFFF"/>
<circle cx="777.6" cy="505.38" r="2.7" fill="#CFCFCF"/>
<circle cx="777.6" cy="502.05" r="2.7" fill="#999999"/>
<circle cx="777.6" cy="498.72" r="2.7" fill="#555555"/>
<circle cx="777.6" cy="495.4" r="2.8" fill="#000"/>
<circle cx="784" cy="508.7" r="2.7" fill="#FFFFFF"/>
<circle cx="784" cy="505.68" r="2.7" fill="#CFCFCF"/>
<circle cx="784" cy="502.65" r="2.7" fill="#999999"/>
<circle cx="784" cy="499.62" r="2.7" fill="#555555"/>
<circle cx="784" cy="496.6" r="2.8" fill="#000"/>
<circle cx="790.4" cy="508.7" r="2.7" fill="#FFFFFF"/>
<circle cx="790.4" cy="506.27" r="2.7" fill="#CFCFCF"/>
<circle cx="790.4" cy="503.85" r="2.7" fill="#999999"/>
<circle cx="790.4" cy="501.43" r="2.7" fill="#555555"/>
<circle cx="790.4" cy="499" r="2.8" fill="#000"/>
<circle cx="796.8" cy="508.7" r="2.7" fill="#FFFFFF"/>
<circle cx="796.8" cy="507.02" r="2.7" fill="#CFCFCF"/>
<circle cx="796.8" cy="505.35" r="2.7" fill="#999999"/>
<circle cx="796.8" cy="503.68" r="2.7" fill="#555555"/>
<circle cx="796.8" cy="502" r="2.8" fill="#000"/>
<circle cx="803.2" cy="509.2" r="2.7" fill="#FFFFFF"/>
<circle cx="803.2" cy="508.4" r="2.7" fill="#CFCFCF"/>
<circle cx="803.2" cy="507.6" r="2.7" fill="#999999"/>
<circle cx="803.2" cy="506.8" r="2.7" fill="#555555"/>
<circle cx="803.2" cy="506" r="2.8" fill="#000"/>
<circle cx="809.6" cy="509.2" r="2.7" fill="#FFFFFF"/>
<circle cx="809.6" cy="508.4" r="2.7" fill="#CFCFCF"/>
<circle cx="809.6" cy="507.6" r="2.7" fill="#999999"/>
<circle cx="809.6" cy="506.8" r="2.7" fill="#555555"/>
<circle cx="809.6" cy="506" r="2.8" fill="#000"/>
<circle cx="816" cy="508.7" r="2.7" fill="#FFFFFF"/>
<circle cx="816" cy="507.43" r="2.7" fill="#CFCFCF"/>
<circle cx="816" cy="506.15" r="2.7" fill="#999999"/>
<circle cx="816" cy="504.88" r="2.7" fill="#555555"/>
<circle cx="816" cy="503.6" r="2.8" fill="#000"/>
<circle cx="822.4" cy="508.7" r="2.7" fill="#FFFFFF"/>
<circle cx="822.4" cy="507.52" r="2.7" fill="#CFCFCF"/>
<circle cx="822.4" cy="506.35" r="2.7" fill="#999999"/>
<circle cx="822.4" cy="505.18" r="2.7" fill="#555555"/>
<circle cx="822.4" cy="504" r="2.8" fill="#000"/>
<circle cx="828.8" cy="508.7" r="2.7" fill="#FFFFFF"/>
<circle cx="828.8" cy="507.88" r="2.7" fill="#CFCFCF"/>
<circle cx="828.8" cy="507.05" r="2.7" fill="#999999"/>
<circle cx="828.8" cy="506.22" r="2.7" fill="#555555"/>
<circle cx="828.8" cy="505.4" r="2.8" fill="#000"/>
<circle cx="835.2" cy="510.6" r="2.7" fill="#FFFFFF"/>
<circle cx="835.2" cy="509.8" r="2.7" fill="#CFCFCF"/>
<circle cx="835.2" cy="509" r="2.7" fill="#999999"/>
<circle cx="835.2" cy="508.2" r="2.7" fill="#555555"/>
<circle cx="835.2" cy="507.4" r="2.8" fill="#000"/>
<circle cx="841.6" cy="512.2" r="2.7" fill="#FFFFFF"/>
<circle cx="841.6" cy="511.4" r="2.7" fill="#CFCFCF"/>
<circle cx="841.6" cy="510.6" r="2.7" fill="#999999"/>
<circle cx="841.6" cy="509.8" r="2.7" fill="#555555"/>
<circle cx="841.6" cy="509" r="2.8" fill="#000"/>
<circle cx="348.8" cy="480.9" r="2.85" fill="#AC2020"/>
<circle cx="355.2" cy="478.9" r="2.85" fill="#AC2020"/>
<circle cx="361.6" cy="445.9" r="2.85" fill="#AC2020"/>
<circle cx="368" cy="482.7" r="2.85" fill="#AC2020"/>
<circle cx="374.4" cy="486.3" r="2.85" fill="#AC2020"/>
<circle cx="380.8" cy="487.3" r="2.85" fill="#AC2020"/>
<circle cx="387.2" cy="448.9" r="2.85" fill="#AC2020"/>
<circle cx="393.6" cy="456.7" r="2.85" fill="#AC2020"/>
<circle cx="400" cy="487.3" r="2.85" fill="#AC2020"/>
<circle cx="406.4" cy="457.7" r="2.85" fill="#AC2020"/>
<circle cx="412.8" cy="447.7" r="2.85" fill="#AC2020"/>
<circle cx="419.2" cy="445.7" r="2.85" fill="#AC2020"/>
<circle cx="425.6" cy="447.7" r="2.85" fill="#AC2020"/>
<circle cx="432" cy="445.9" r="2.85" fill="#AC2020"/>
<circle cx="438.4" cy="445.9" r="2.85" fill="#AC2020"/>
<circle cx="444.8" cy="447.7" r="2.85" fill="#AC2020"/>
<circle cx="451.2" cy="445.9" r="2.85" fill="#AC2020"/>
<circle cx="457.6" cy="445.9" r="2.85" fill="#AC2020"/>
<circle cx="464" cy="445.9" r="2.85" fill="#AC2020"/>
<circle cx="470.4" cy="445.9" r="2.85" fill="#AC2020"/>
<circle cx="476.8" cy="447.7" r="2.85" fill="#AC2020"/>
<circle cx="483.2" cy="445.9" r="2.85" fill="#AC2020"/>
<circle cx="489.6" cy="445.9" r="2.85" fill="#AC2020"/>
<circle cx="496" cy="445.9" r="2.85" fill="#AC2020"/>
<circle cx="502.4" cy="445.9" r="2.85" fill="#AC2020"/>
<circle cx="508.8" cy="445.9" r="2.85" fill="#AC2020"/>
<circle cx="515.2" cy="445.9" r="2.85" fill="#AC2020"/>
<circle cx="521.6" cy="445.9" r="2.85" fill="#AC2020"/>
<circle cx="528" cy="445.9" r="2.85" fill="#AC2020"/>
<circle cx="534.4" cy="445.9" r="2.85" fill="#AC2020"/>
<circle cx="540.8" cy="452.3" r="2.85" fill="#AC2020"/>
<circle cx="547.2" cy="448.9" r="2.85" fill="#AC2020"/>
<circle cx="553.6" cy="448.9" r="2.85" fill="#AC2020"/>
<circle cx="560" cy="449.9" r="2.85" fill="#AC2020"/>
<circle cx="566.4" cy="457.3" r="2.85" fill="#AC2020"/>
<circle cx="572.8" cy="463.9" r="2.85" fill="#AC2020"/>
<circle cx="579.2" cy="485.9" r="2.85" fill="#AC2020"/>
<circle cx="585.6" cy="487.3" r="2.85" fill="#AC2020"/>
<circle cx="592" cy="486.3" r="2.85" fill="#AC2020"/>
<circle cx="598.4" cy="449.7" r="2.85" fill="#AC2020"/>
<circle cx="604.8" cy="447.7" r="2.85" fill="#AC2020"/>
<circle cx="611.2" cy="447.7" r="2.85" fill="#AC2020"/>
<circle cx="617.6" cy="448.9" r="2.85" fill="#AC2020"/>
<circle cx="624" cy="448.9" r="2.85" fill="#AC2020"/>
<circle cx="630.4" cy="447.7" r="2.85" fill="#AC2020"/>
<circle cx="636.8" cy="447.7" r="2.85" fill="#AC2020"/>
<circle cx="643.2" cy="445.9" r="2.85" fill="#AC2020"/>
<circle cx="649.6" cy="445.9" r="2.85" fill="#AC2020"/>
<circle cx="656" cy="445.9" r="2.85" fill="#AC2020"/>
<circle cx="662.4" cy="443.9" r="2.85" fill="#AC2020"/>
<circle cx="668.8" cy="443.9" r="2.85" fill="#AC2020"/>
<circle cx="675.2" cy="443.9" r="2.85" fill="#AC2020"/>
<circle cx="681.6" cy="443.9" r="2.85" fill="#AC2020"/>
<circle cx="688" cy="443.9" r="2.85" fill="#AC2020"/>
<circle cx="694.4" cy="443.9" r="2.85" fill="#AC2020"/>
<circle cx="700.8" cy="443.9" r="2.85" fill="#AC2020"/>
<circle cx="707.2" cy="443.9" r="2.85" fill="#AC2020"/>
<circle cx="713.6" cy="443.9" r="2.85" fill="#AC2020"/>
<circle cx="720" cy="443.9" r="2.85" fill="#AC2020"/>
<circle cx="726.4" cy="443.9" r="2.85" fill="#AC2020"/>
<circle cx="732.8" cy="445.9" r="2.85" fill="#AC2020"/>
<circle cx="739.2" cy="443.9" r="2.85" fill="#AC2020"/>
<circle cx="745.6" cy="443.9" r="2.85" fill="#AC2020"/>
<circle cx="752" cy="443.9" r="2.85" fill="#AC2020"/>
<circle cx="758.4" cy="443.9" r="2.85" fill="#AC2020"/>
<circle cx="764.8" cy="443.9" r="2.85" fill="#AC2020"/>
<circle cx="771.2" cy="443.9" r="2.85" fill="#AC2020"/>
<circle cx="777.6" cy="443.9" r="2.85" fill="#AC2020"/>
<circle cx="784" cy="443.9" r="2.85" fill="#AC2020"/>
<circle cx="790.4" cy="443.9" r="2.85" fill="#AC2020"/>
<circle cx="796.8" cy="443.9" r="2.85" fill="#AC2020"/>
<circle cx="803.2" cy="443.9" r="2.85" fill="#AC2020"/>
<circle cx="809.6" cy="443.9" r="2.85" fill="#AC2020"/>
<circle cx="816" cy="443.9" r="2.85" fill="#AC2020"/>
<circle cx="822.4" cy="443.9" r="2.85" fill="#AC2020"/>
<circle cx="828.8" cy="443.9" r="2.85" fill="#AC2020"/>
<circle cx="835.2" cy="443.9" r="2.85" fill="#AC2020"/>
<circle cx="841.6" cy="443.9" r="2.85" fill="#AC2020"/>
</g>
<path d="M361.6 438.5V516.5M380.8 438.5V516.5M400 438.5V516.5M419.2 438.5V516.5M438.4 438.5V516.5M457.6 438.5V516.5M476.8 438.5V516.5M496 438.5V516.5M515.2 438.5V516.5M534.4 438.5V516.5M553.6 438.5V516.5M572.8 438.5V516.5M592 438.5V516.5M611.2 438.5V516.5M630.4 438.5V516.5M649.6 438.5V516.5M668.8 438.5V516.5M688 438.5V516.5M707.2 438.5V516.5M726.4 438.5V516.5M745.6 438.5V516.5M764.8 438.5V516.5M784 438.5V516.5M803.2 438.5V516.5M822.4 438.5V516.5M841.6 438.5V516.5" stroke="#000" stroke-width="1" stroke-dasharray="2 2" fill="none" shape-rendering="crispEdges"/>
<g clip-path="url(#cB)">
<polyline points="348.8,473 355.2,476.4 361.6,475 368,454 374.4,452.6 380.8,471 387.2,474 393.6,484 400,475 406.4,456 412.8,456 419.2,456 425.6,455.6 432,454 438.4,454 444.8,454 451.2,475.4 457.6,476.6 464,476 470.4,477.4 476.8,475.4 483.2,479.4 489.6,474.4 496,473.4 502.4,468.6 508.8,472 515.2,475 521.6,476 528,467.4 534.4,476.6 540.8,482 547.2,479 553.6,484 560,487.4 566.4,488.4 572.8,482.4 579.2,468 585.6,458 592,472 598.4,453 604.8,453.6 611.2,454.2 617.6,454.6 624,455 630.4,455.6 636.8,455.4 643.2,456 649.6,456 656,456.6 662.4,457 668.8,468 675.2,464.6 681.6,461.6 688,458.6 694.4,457.4 700.8,459 707.2,457 713.6,457.4 720,459 726.4,462.6 732.8,466 739.2,467.4 745.6,467 752,468 758.4,468.4 764.8,467.4 771.2,466.6 777.6,466.6 784,467 790.4,466 796.8,469 803.2,476.4 809.6,476.6 816,473.6 822.4,474 828.8,476.4 835.2,478.6 841.6,487" fill="none" stroke="#FFA000" stroke-width="2" stroke-linejoin="round"/>
</g>
<path d="M348.5 438.5H841.5M348.5 457.5H841.5M348.5 477.5H841.5M348.5 496.5H841.5" stroke="#000" stroke-width="1" stroke-dasharray="2 2" fill="none" shape-rendering="crispEdges"/>
<g>
</g>
<path d="M348.5 437.5V516.5M841.5 437.5V516.5" stroke="#000" stroke-width="1" stroke-dasharray="2 2" fill="none" shape-rendering="crispEdges"/>
<path d="M348 438H842" stroke="#222" stroke-width="1.1" fill="none"/>
<path d="M348 516.5H842" stroke="#0a0a0a" stroke-width="1" fill="none" shape-rendering="crispEdges"/>
<clipPath id="cC"><rect x="348.5" y="525.5" width="493" height="78"/></clipPath>
<rect x="348.5" y="525.5" width="493" height="78" fill="#87D7FF"/>
<rect x="356.4" y="525.5" width="106.5" height="78" fill="#7DC3EB"/>
<rect x="509" y="525.5" width="107" height="78" fill="#7DC3EB"/>
<rect x="663" y="525.5" width="107" height="78" fill="#7DC3EB"/>
<rect x="816.2" y="525.5" width="25.3" height="78" fill="#7DC3EB"/>
<g clip-path="url(#cC)">
<polygon points="348.5,603.5 348.8,525.4 355.2,525.4 361.6,525.4 368,528 374.4,531.4 380.8,529.4 387.2,526 393.6,526 400,533 406.4,555 412.8,537.4 419.2,532 425.6,530.6 432,528 438.4,525.4 444.8,525.4 451.2,525.4 457.6,525.4 464,525.4 470.4,525.4 476.8,525.4 483.2,525.4 489.6,525.4 496,525.4 502.4,526.6 508.8,525.4 515.2,525.4 521.6,525.4 528,525.4 534.4,525.4 540.8,525.4 547.2,525.4 553.6,525.4 560,525.4 566.4,525.4 572.8,525.4 579.2,540 585.6,525.4 592,525.4 598.4,525.4 604.8,525.4 611.2,525.4 617.6,530 624,528 630.4,525.4 636.8,526 643.2,529 649.6,533 656,526 662.4,530 668.8,533 675.2,528.4 681.6,536 688,545 694.4,529 700.8,527 707.2,530 713.6,526 720,531 726.4,536 732.8,530 739.2,531 745.6,530.4 752,532.4 758.4,537 764.8,535.6 771.2,530 777.6,530 784,529 790.4,525.4 796.8,525.4 803.2,525.4 809.6,525.4 816,525.4 822.4,525.4 828.8,525.4 835.2,525.4 841.6,525.4 841.5,603.5" fill="#525252"/>
<polygon points="503,603.5 503.7,580 506.4,545 509,538 514.6,536.4 520,527 521,525.5 565,525.5 569,533.6 573,561 578.7,596.4 580,603.5" fill="#5F5F5F"/>
<polygon points="348.5,603.5 348.5,566.4 354.5,561.6 358.6,574.6 362.7,591 366.8,600.5 372,603.5" fill="#3A3A3A"/>
<polygon points="392,603.5 396.8,600.5 403.7,593.7 409,584 412.5,578.7 418.7,584 426.9,596.4 433.7,599 438.2,595 447.7,591 457.3,581.4 464,571.8 469.6,563.7 475,559.6 481.8,563.7 490,565 496.8,563.7 502.3,554 506.4,544.6 509,537.7 515.2,535.7 518.6,554 522.7,574.6 526.8,593.7 529.6,600.5 534.3,597.8 537.7,585.5 545.9,565 552.7,547.3 559.6,530.2 562.3,533.6 566.4,547.3 570.5,565 576,585.5 580,599 582,603.5" fill="#3A3A3A"/>
<polygon points="664,603.5 668,602 675,600.5 682,602 688,603.5" fill="#3A3A3A"/>
<polygon points="722,603.5 733.7,600.5 741.9,599.8 747.3,597.8 752.8,595 758.2,596.4 765,600.5 770,603.5" fill="#3A3A3A"/>
<polygon points="789,603.5 791.4,601.9 800.9,565 802.6,545.9 807,554 814.6,563.7 822,565 825.5,555.5 828.2,540.5 833.7,533.6 841.9,528.9 841.9,603.5" fill="#3A3A3A"/>
<polygon points="683.9,545.9 687.3,533.6 693.4,528.2 691.4,537.7 689.3,554 686.6,555.5" fill="#FFFFFF"/>
<polygon points="693.4,528.2 697.5,535 694.8,565 688.6,562.3 689.3,554 691.4,537.7" fill="#A8A8A8"/>
<polygon points="754.1,533.6 757.8,529.3 763,535 758.9,537.7" fill="#FFFFFF"/>
</g>
<g clip-path="url(#cC)">
<path d="M348.8 605.5V593.6" stroke="#2a2a20" stroke-width="3.8" stroke-linecap="round" fill="none" opacity="0.5"/>
<path d="M348.8 605.5V593.6" stroke="#FFB400" stroke-width="3.1" stroke-linecap="round" fill="none"/>
<path d="M355.2 605.5V586.6" stroke="#2a2a20" stroke-width="3.8" stroke-linecap="round" fill="none" opacity="0.5"/>
<path d="M355.2 605.5V586.6" stroke="#FFB400" stroke-width="3.1" stroke-linecap="round" fill="none"/>
<path d="M361.6 605.5V599.6" stroke="#2a2a20" stroke-width="3.8" stroke-linecap="round" fill="none" opacity="0.5"/>
<path d="M361.6 605.5V599.6" stroke="#FFB400" stroke-width="3.1" stroke-linecap="round" fill="none"/>
<path d="M393.6 605.5V602.6" stroke="#2a2a20" stroke-width="3.8" stroke-linecap="round" fill="none" opacity="0.5"/>
<path d="M393.6 605.5V602.6" stroke="#FFB400" stroke-width="3.1" stroke-linecap="round" fill="none"/>
<path d="M400 605.5V598" stroke="#2a2a20" stroke-width="3.8" stroke-linecap="round" fill="none" opacity="0.5"/>
<path d="M400 605.5V598" stroke="#FFB400" stroke-width="3.1" stroke-linecap="round" fill="none"/>
<path d="M406.4 605.5V586" stroke="#2a2a20" stroke-width="3.8" stroke-linecap="round" fill="none" opacity="0.5"/>
<path d="M406.4 605.5V586" stroke="#FFB400" stroke-width="3.1" stroke-linecap="round" fill="none"/>
<path d="M412.8 605.5V592" stroke="#2a2a20" stroke-width="3.8" stroke-linecap="round" fill="none" opacity="0.5"/>
<path d="M412.8 605.5V592" stroke="#FFB400" stroke-width="3.1" stroke-linecap="round" fill="none"/>
<path d="M419.2 605.5V590" stroke="#2a2a20" stroke-width="3.8" stroke-linecap="round" fill="none" opacity="0.5"/>
<path d="M419.2 605.5V590" stroke="#FFB400" stroke-width="3.1" stroke-linecap="round" fill="none"/>
<path d="M425.6 605.5V597" stroke="#2a2a20" stroke-width="3.8" stroke-linecap="round" fill="none" opacity="0.5"/>
<path d="M425.6 605.5V597" stroke="#FFB400" stroke-width="3.1" stroke-linecap="round" fill="none"/>
<path d="M464 605.5V602" stroke="#2a2a20" stroke-width="3.8" stroke-linecap="round" fill="none" opacity="0.5"/>
<path d="M464 605.5V602" stroke="#FFB400" stroke-width="3.1" stroke-linecap="round" fill="none"/>
<path d="M470.4 605.5V600" stroke="#2a2a20" stroke-width="3.8" stroke-linecap="round" fill="none" opacity="0.5"/>
<path d="M470.4 605.5V600" stroke="#FFB400" stroke-width="3.1" stroke-linecap="round" fill="none"/>
<path d="M476.8 605.5V598" stroke="#2a2a20" stroke-width="3.8" stroke-linecap="round" fill="none" opacity="0.5"/>
<path d="M476.8 605.5V598" stroke="#FFB400" stroke-width="3.1" stroke-linecap="round" fill="none"/>
<path d="M483.2 605.5V599" stroke="#2a2a20" stroke-width="3.8" stroke-linecap="round" fill="none" opacity="0.5"/>
<path d="M483.2 605.5V599" stroke="#FFB400" stroke-width="3.1" stroke-linecap="round" fill="none"/>
<path d="M489.6 605.5V600" stroke="#2a2a20" stroke-width="3.8" stroke-linecap="round" fill="none" opacity="0.5"/>
<path d="M489.6 605.5V600" stroke="#FFB400" stroke-width="3.1" stroke-linecap="round" fill="none"/>
<path d="M496 605.5V600" stroke="#2a2a20" stroke-width="3.8" stroke-linecap="round" fill="none" opacity="0.5"/>
<path d="M496 605.5V600" stroke="#FFB400" stroke-width="3.1" stroke-linecap="round" fill="none"/>
<path d="M502.4 605.5V598" stroke="#2a2a20" stroke-width="3.8" stroke-linecap="round" fill="none" opacity="0.5"/>
<path d="M502.4 605.5V598" stroke="#FFB400" stroke-width="3.1" stroke-linecap="round" fill="none"/>
<path d="M508.8 605.5V586" stroke="#2a2a20" stroke-width="3.8" stroke-linecap="round" fill="none" opacity="0.5"/>
<path d="M508.8 605.5V586" stroke="#FFB400" stroke-width="3.1" stroke-linecap="round" fill="none"/>
<path d="M515.2 605.5V575" stroke="#2a2a20" stroke-width="3.8" stroke-linecap="round" fill="none" opacity="0.5"/>
<path d="M515.2 605.5V575" stroke="#FFB400" stroke-width="3.1" stroke-linecap="round" fill="none"/>
<path d="M521.6 605.5V577" stroke="#2a2a20" stroke-width="3.8" stroke-linecap="round" fill="none" opacity="0.5"/>
<path d="M521.6 605.5V577" stroke="#FFB400" stroke-width="3.1" stroke-linecap="round" fill="none"/>
<path d="M547.2 605.5V598" stroke="#2a2a20" stroke-width="3.8" stroke-linecap="round" fill="none" opacity="0.5"/>
<path d="M547.2 605.5V598" stroke="#FFB400" stroke-width="3.1" stroke-linecap="round" fill="none"/>
<path d="M553.6 605.5V580" stroke="#2a2a20" stroke-width="3.8" stroke-linecap="round" fill="none" opacity="0.5"/>
<path d="M553.6 605.5V580" stroke="#FFB400" stroke-width="3.1" stroke-linecap="round" fill="none"/>
<path d="M560 605.5V560" stroke="#2a2a20" stroke-width="3.8" stroke-linecap="round" fill="none" opacity="0.5"/>
<path d="M560 605.5V560" stroke="#FFB400" stroke-width="3.1" stroke-linecap="round" fill="none"/>
<path d="M566.4 605.5V579" stroke="#2a2a20" stroke-width="3.8" stroke-linecap="round" fill="none" opacity="0.5"/>
<path d="M566.4 605.5V579" stroke="#FFB400" stroke-width="3.1" stroke-linecap="round" fill="none"/>
<path d="M572.8 605.5V590" stroke="#2a2a20" stroke-width="3.8" stroke-linecap="round" fill="none" opacity="0.5"/>
<path d="M572.8 605.5V590" stroke="#FFB400" stroke-width="3.1" stroke-linecap="round" fill="none"/>
<path d="M579.2 605.5V599" stroke="#2a2a20" stroke-width="3.8" stroke-linecap="round" fill="none" opacity="0.5"/>
<path d="M579.2 605.5V599" stroke="#FFB400" stroke-width="3.1" stroke-linecap="round" fill="none"/>
<path d="M803.2 605.5V587" stroke="#2a2a20" stroke-width="3.8" stroke-linecap="round" fill="none" opacity="0.5"/>
<path d="M803.2 605.5V587" stroke="#FFB400" stroke-width="3.1" stroke-linecap="round" fill="none"/>
<path d="M809.6 605.5V585" stroke="#2a2a20" stroke-width="3.8" stroke-linecap="round" fill="none" opacity="0.5"/>
<path d="M809.6 605.5V585" stroke="#FFB400" stroke-width="3.1" stroke-linecap="round" fill="none"/>
<path d="M816 605.5V603" stroke="#2a2a20" stroke-width="3.8" stroke-linecap="round" fill="none" opacity="0.5"/>
<path d="M816 605.5V603" stroke="#FFB400" stroke-width="3.1" stroke-linecap="round" fill="none"/>
<path d="M822.4 605.5V603" stroke="#2a2a20" stroke-width="3.8" stroke-linecap="round" fill="none" opacity="0.5"/>
<path d="M822.4 605.5V603" stroke="#FFB400" stroke-width="3.1" stroke-linecap="round" fill="none"/>
<path d="M828.8 605.5V591" stroke="#2a2a20" stroke-width="3.8" stroke-linecap="round" fill="none" opacity="0.5"/>
<path d="M828.8 605.5V591" stroke="#FFB400" stroke-width="3.1" stroke-linecap="round" fill="none"/>
<path d="M835.2 605.5V580" stroke="#2a2a20" stroke-width="3.8" stroke-linecap="round" fill="none" opacity="0.5"/>
<path d="M835.2 605.5V580" stroke="#FFB400" stroke-width="3.1" stroke-linecap="round" fill="none"/>
<path d="M841.6 605.5V563" stroke="#2a2a20" stroke-width="3.8" stroke-linecap="round" fill="none" opacity="0.5"/>
<path d="M841.6 605.5V563" stroke="#FFB400" stroke-width="3.1" stroke-linecap="round" fill="none"/>
</g>
<path d="M361.6 525.5V603.5M380.8 525.5V603.5M400 525.5V603.5M419.2 525.5V603.5M438.4 525.5V603.5M457.6 525.5V603.5M476.8 525.5V603.5M496 525.5V603.5M515.2 525.5V603.5M534.4 525.5V603.5M553.6 525.5V603.5M572.8 525.5V603.5M592 525.5V603.5M611.2 525.5V603.5M630.4 525.5V603.5M649.6 525.5V603.5M668.8 525.5V603.5M688 525.5V603.5M707.2 525.5V603.5M726.4 525.5V603.5M745.6 525.5V603.5M764.8 525.5V603.5M784 525.5V603.5M803.2 525.5V603.5M822.4 525.5V603.5M841.6 525.5V603.5M348.5 545.5H841.5M348.5 564.5H841.5M348.5 584.5H841.5" stroke="#000" stroke-width="1" stroke-dasharray="2 2" fill="none" shape-rendering="crispEdges"/>
<g clip-path="url(#cC)">
<polyline points="348.8,603 355.2,603 361.6,603 368,603 374.4,603 380.8,603 387.2,603 393.6,603 400,603 406.4,603 412.8,603 419.2,603 425.6,599 432,601 438.4,590 444.8,596 451.2,602 457.6,583 464,565 470.4,581 476.8,596 483.2,583 489.6,572 496,577 502.4,579.4 508.8,538 515.2,536 521.6,526 528,526.6 534.4,530 540.8,528.6 547.2,527.4 553.6,531 560,533.4 566.4,526 572.8,565 579.2,603 585.6,603.6 592,603.6 598.4,603.6 604.8,603.6 611.2,602.4 617.6,601 624,591 630.4,580 636.8,577.4 643.2,586 649.6,587.4 656,592 662.4,595.4 668.8,581 675.2,559.4 681.6,558 688,557 694.4,551 700.8,538 707.2,536 713.6,535 720,536.6 726.4,562 732.8,574 739.2,568 745.6,557 752,552 758.4,546 764.8,561 771.2,575 777.6,583 784,597 790.4,602 796.8,603 803.2,603.6 809.6,603.6 816,603.6 822.4,603.6 828.8,603.6 835.2,603.6 841.6,603.6" fill="none" stroke="#A0A0A0" stroke-width="1.1"/>
<polyline points="348.8,603 355.2,602 361.6,601 368,602.6 374.4,602 380.8,600 387.2,600.6 393.6,600 400,602 406.4,594 412.8,584 419.2,587.4 425.6,589.4 432,569 438.4,570 444.8,580 451.2,586 457.6,582 464,572 470.4,570 476.8,568.6 483.2,555 489.6,543 496,567 502.4,569.4 508.8,561.4 515.2,558 521.6,556.4 528,572.6 534.4,577.4 540.8,568 547.2,549 553.6,544.4 560,548 566.4,552.4 572.8,581 579.2,603 585.6,603.6 592,603.6 598.4,603 604.8,599 611.2,592.6 617.6,588.4 624,584.4 630.4,577.4 636.8,580.4 643.2,586.6 649.6,578.6 656,580 662.4,575 668.8,567.4 675.2,566 681.6,555 688,535 694.4,528 700.8,535 707.2,541 713.6,553 720,565 726.4,562 732.8,573 739.2,560 745.6,548 752,537 758.4,530 764.8,537 771.2,536 777.6,542 784,547 790.4,559 796.8,563 803.2,566 809.6,568 816,573 822.4,577.4 828.8,576 835.2,578.6 841.6,580.6" fill="none" stroke="#FFFFFF" stroke-width="1.2"/>
</g>
<path d="M348.5 525.5V603.5M841.5 525.5V603.5" stroke="#000" stroke-width="1" stroke-dasharray="2 2" fill="none" shape-rendering="crispEdges"/>
<path d="M348 525.5H842" stroke="#111" stroke-width="1" fill="none" shape-rendering="crispEdges"/>
<path d="M348 603.5H842" stroke="#0a0a0a" stroke-width="1" fill="none" shape-rendering="crispEdges"/>
<line x1="348" y1="604.5" x2="842" y2="604.5" stroke="#9AD4F5" stroke-width="1" shape-rendering="crispEdges"/>
<clipPath id="lT"><rect x="135.5" y="57.5" width="110" height="77"/></clipPath>
<g clip-path="url(#lT)">
<rect x="135.5" y="111.5" width="110" height="23" fill="#87CEFA"/>
<rect x="170.4" y="111.5" width="61.6" height="23" fill="#80C2F2"/>
<polygon points="135.5,88 150.4,93.5 164,97.6 184.5,104.4 205,107.8 225.4,109.2 233.5,109.9 245.8,106.5 245.8,118 233.5,131 225.4,130.3 211.7,127.6 198,122 184.5,116 170.9,112.6 150.4,103 135.5,100.3" fill="#FFE8E0"/>
<polygon points="135.5,102 143.6,103.4 157.2,107.5 170.9,111.6 184.5,113 191.3,115 198,116.8 205,117 211.7,117.7 217.2,115.7 225.4,115.4 232.2,120.4 239,115.7 245.8,115 245.8,118 233.5,126.5 225.4,124 211.7,126 203.6,126 198,125.5 191.3,123.5 184.5,120.8 175,116.7 164,114 150.4,111 135.5,108" fill="#BFE6FF"/>
</g>
<path d="M142.5 57.5V134.5M163.5 57.5V134.5M184.5 57.5V134.5M205.5 57.5V134.5M226.5 57.5V134.5M135.5 59.5H245.5M135.5 77.5H245.5M135.5 94.5H245.5M135.5 111.5H245.5M135.5 129.5H245.5" stroke="#000" stroke-width="1" stroke-dasharray="2 2" fill="none" shape-rendering="crispEdges"/>
<g clip-path="url(#lT)">
<rect x="141" y="111.6" width="2.8" height="2.8" fill="#6A5ACD"/>
<rect x="148.6" y="112.6" width="2.8" height="2.8" fill="#6A5ACD"/>
<rect x="155.6" y="113.6" width="2.8" height="2.8" fill="#6A5ACD"/>
<rect x="162.2" y="113.6" width="2.8" height="2.8" fill="#6A5ACD"/>
<rect x="169" y="113.1" width="2.8" height="2.8" fill="#6A5ACD"/>
<rect x="176" y="114.6" width="2.8" height="2.8" fill="#6A5ACD"/>
<rect x="183" y="116.6" width="2.8" height="2.8" fill="#6A5ACD"/>
<rect x="190" y="117.6" width="2.8" height="2.8" fill="#6A5ACD"/>
<rect x="197" y="118.6" width="2.8" height="2.8" fill="#6A5ACD"/>
<rect x="204" y="119.6" width="2.8" height="2.8" fill="#6A5ACD"/>
<rect x="211" y="119.6" width="2.8" height="2.8" fill="#6A5ACD"/>
<rect x="218" y="118.6" width="2.8" height="2.8" fill="#6A5ACD"/>
<rect x="225" y="119.6" width="2.8" height="2.8" fill="#6A5ACD"/>
<rect x="232" y="122.6" width="2.8" height="2.8" fill="#6A5ACD"/>
<rect x="238.6" y="117.6" width="2.8" height="2.8" fill="#6A5ACD"/>
<path d="M142.5 69V80M150.5 78V99M157.5 87V100M163.5 96V108M170.5 101V114M177.5 103V118M184.5 105V120M191.5 107V124M198.5 108V125M205.5 109V127M212.5 109V129M219.5 110V130M226.5 110V133M233.5 111V133M240.5 106V120" stroke="#B02020" stroke-width="1" fill="none" shape-rendering="crispEdges"/>
<polyline points="135.5,103 143.6,104.4 157.2,108.5 170.9,112.6 184.5,114 191.3,116 198,117.8 205,118 211.7,118.7 217.2,116.7 225.4,116.4 232.2,121.4 239,116.7 245.8,116" fill="none" stroke="#0000FF" stroke-width="2.2" stroke-linejoin="round"/>
<polyline points="135.5,99 143.6,99.6 150,102.6 157.2,105.8 164,108.4 170.9,110.5 184.5,113.3 198,114 211.7,114.6 225.4,115.3 232.2,118.7 239,114.6 245.8,111.9" fill="none" stroke="#FF0000" stroke-width="2.2" stroke-linejoin="round"/>
</g>
<rect x="135.5" y="57.5" width="110" height="77" fill="none" stroke="#111" stroke-width="1" shape-rendering="crispEdges"/>
<clipPath id="lP"><rect x="135.5" y="143.5" width="110" height="77"/></clipPath>
<path d="M142.5 143.5V220.5M163.5 143.5V220.5M184.5 143.5V220.5M205.5 143.5V220.5M226.5 143.5V220.5M135.5 150.5H245.5M135.5 167.5H245.5M135.5 185.5H245.5M135.5 203.5H245.5" stroke="#000" stroke-width="1" stroke-dasharray="2 2" fill="none" shape-rendering="crispEdges"/>
<g clip-path="url(#lP)">
<g shape-rendering="crispEdges">
<rect x="136" y="186.6" width="7" height="33.9" fill="#00A000"/>
<rect x="143" y="181.4" width="7" height="39.1" fill="#00A000"/>
<rect x="150" y="179.4" width="7" height="41.1" fill="#00A000"/>
<rect x="157" y="202" width="7.4" height="18.5" fill="#00A000"/>
<rect x="164.4" y="208" width="6" height="12.5" fill="#00A000"/>
<rect x="170.4" y="218.6" width="6.6" height="1.9" fill="#00A000"/>
<rect x="157" y="182.4" width="7.4" height="19.6" fill="#1030D0"/>
<rect x="164.4" y="205" width="6" height="3" fill="#1030D0"/>
<line x1="139.5" y1="165" x2="139.5" y2="187" stroke="#00A000" stroke-width="1"/>
<line x1="146.5" y1="148" x2="146.5" y2="182" stroke="#00A000" stroke-width="1"/>
<line x1="153.5" y1="148" x2="153.5" y2="180" stroke="#00A000" stroke-width="1"/>
<line x1="160.5" y1="172" x2="160.5" y2="183" stroke="#1030D0" stroke-width="1"/>
<rect x="145.2" y="145.8" width="2.8" height="2.8" fill="#FF0000"/>
<rect x="152" y="145.8" width="2.8" height="2.8" fill="#FF0000"/>
<path d="M138 219.5H141M145 219.5H148M152 219.5H156M160 219.5H163" stroke="#FF0000" stroke-width="1"/>
</g>
<polyline points="139,173 143,170 147,163 150,160 154,156 158,154.4 164.4,153.4 185,153 192,149 198,149.4 205.6,155 212,155.6 218,152 226,149.4 233,152 240,158 245.6,165" fill="none" stroke="#E8501A" stroke-width="2.1" stroke-linejoin="round"/>
<circle cx="139.6" cy="173.3" r="2.5" fill="#FFE000" stroke="#222" stroke-width="0.9"/>
<circle cx="146.6" cy="173.3" r="2.5" fill="#FFA500" stroke="#222" stroke-width="0.9"/>
<circle cx="153.6" cy="173.3" r="2.5" fill="#E00000" stroke="#222" stroke-width="0.9"/>
</g>
<rect x="135.5" y="143.5" width="110" height="77" fill="none" stroke="#111" stroke-width="1" shape-rendering="crispEdges"/>
<clipPath id="lQ"><polygon points="135.5,306.5 135.5,261 143,260.4 150,253 157,249 164.4,248.6 170.4,245 178,248.6 185,250.6 192,254 226,254 234,258 245.5,265 245.5,306.5"/></clipPath>
<g clip-path="url(#lQ)">
<rect x="135.5" y="229.5" width="110" height="77" fill="#FFFF00"/>
<rect x="164.4" y="229.5" width="5.4" height="77" fill="#FFD800"/>
</g>
<path d="M142.5 229.5V306.5M163.5 229.5V306.5M184.5 229.5V306.5M205.5 229.5V306.5M226.5 229.5V306.5M135.5 231.5H245.5M135.5 254.5H245.5M135.5 278.5H245.5M135.5 301.5H245.5" stroke="#000" stroke-width="1" stroke-dasharray="2 2" fill="none" shape-rendering="crispEdges"/>
<polyline points="135.5,261 143,260.4 150,253 157,249 164.4,248.6 170.4,245 178,248.6 185,250.6 192,254 226,254 234,258 245.5,265" fill="none" stroke="#000" stroke-width="2.1" stroke-linejoin="round"/>
<rect x="135.5" y="229.5" width="110" height="77" fill="none" stroke="#111" stroke-width="1" shape-rendering="crispEdges"/>
<clipPath id="lW"><polygon points="135.5,392.5 135.5,365 143,369 150,371 157,372.4 164.4,373.6 170.4,374.4 178,375.4 185,375 192,374 198,373 212,373 226,372.6 233,371 240,370 245.5,369.6 245.5,392.5"/></clipPath>
<g clip-path="url(#lW)" shape-rendering="crispEdges">
<rect x="135.5" y="315.5" width="12.5" height="77" fill="#10C810"/>
<rect x="148" y="315.5" width="21" height="77" fill="#008000"/>
<rect x="169" y="315.5" width="28" height="77" fill="#004080"/>
<rect x="197" y="315.5" width="14" height="77" fill="#008000"/>
<rect x="211" y="315.5" width="15" height="77" fill="#004080"/>
<rect x="226" y="315.5" width="13" height="77" fill="#008000"/>
<rect x="239" y="315.5" width="6.5" height="77" fill="#10C810"/>
</g>
<path d="M142.5 315.5V392.5M163.5 315.5V392.5M184.5 315.5V392.5M205.5 315.5V392.5M226.5 315.5V392.5M135.5 334.5H245.5M135.5 354.5H245.5M135.5 373.5H245.5" stroke="#000" stroke-width="1" stroke-dasharray="2 2" fill="none" shape-rendering="crispEdges"/>
<polyline points="135.5,365 143,369 150,371 157,372.4 164.4,373.6 170.4,374.4 178,375.4 185,375 192,374 198,373 212,373 226,372.6 233,371 240,370 245.5,369.6" fill="none" stroke="#00009C" stroke-width="2.4" stroke-linejoin="round"/>
<path d="M138 340.5H149M148 347.5H155M155 348.5H162M162 351.5H170M170 355.5H177M177 358.5H185M184 354.5H190.4M190.4 351.5H198M198 350.5H212M212 351.5H226M226 347.5H233M233 343.5H240M240 342.5H245.5" stroke="#FF0000" stroke-width="1" fill="none"/>
<circle cx="138.6" cy="317.4" r="1.3" fill="#FF0000"/>
<rect x="135.5" y="315.5" width="110" height="77" fill="none" stroke="#111" stroke-width="1" shape-rendering="crispEdges"/>
<path d="M142.5 398.5V430M163.5 398.5V430M184.5 398.5V430M205.5 398.5V430M226.5 398.5V430" stroke="#000" stroke-width="1" stroke-dasharray="2 2" fill="none" shape-rendering="crispEdges"/>
<rect x="135.5" y="398.5" width="110" height="31.5" fill="none" stroke="#111" stroke-width="1" shape-rendering="crispEdges"/>
<line x1="139.34" y1="405.71" x2="144.09" y2="417.16" stroke="#0000A0" stroke-width="1.2"/>
<polygon points="146.46,422.89 141.04,418.43 147.14,415.9" fill="#0000A0"/>
<line x1="146.29" y1="405.71" x2="151.04" y2="417.16" stroke="#0000A0" stroke-width="1.2"/>
<polygon points="153.41,422.89 147.99,418.43 154.09,415.9" fill="#0000A0"/>
<line x1="153.24" y1="405.71" x2="157.99" y2="417.16" stroke="#0000A0" stroke-width="1.2"/>
<polygon points="160.36,422.89 154.94,418.43 161.04,415.9" fill="#0000A0"/>
<line x1="160.19" y1="405.71" x2="164.94" y2="417.16" stroke="#0000A0" stroke-width="1.2"/>
<polygon points="167.31,422.89 161.89,418.43 167.99,415.9" fill="#0000A0"/>
<line x1="167.14" y1="405.71" x2="171.89" y2="417.16" stroke="#0000A0" stroke-width="1.2"/>
<polygon points="174.26,422.89 168.84,418.43 174.94,415.9" fill="#0000A0"/>
<line x1="174.09" y1="405.71" x2="178.84" y2="417.16" stroke="#0000A0" stroke-width="1.2"/>
<polygon points="181.21,422.89 175.79,418.43 181.89,415.9" fill="#0000A0"/>
<line x1="181.04" y1="405.71" x2="185.79" y2="417.16" stroke="#0000A0" stroke-width="1.2"/>
<polygon points="188.16,422.89 182.74,418.43 188.84,415.9" fill="#0000A0"/>
<line x1="187.99" y1="405.71" x2="192.74" y2="417.16" stroke="#0000A0" stroke-width="1.2"/>
<polygon points="195.11,422.89 189.69,418.43 195.79,415.9" fill="#0000A0"/>
<line x1="194.94" y1="405.71" x2="199.69" y2="417.16" stroke="#0000A0" stroke-width="1.2"/>
<polygon points="202.06,422.89 196.64,418.43 202.74,415.9" fill="#0000A0"/>
<line x1="201.89" y1="405.71" x2="206.64" y2="417.16" stroke="#0000A0" stroke-width="1.2"/>
<polygon points="209.01,422.89 203.59,418.43 209.69,415.9" fill="#0000A0"/>
<line x1="208.84" y1="405.71" x2="213.59" y2="417.16" stroke="#0000A0" stroke-width="1.2"/>
<polygon points="215.96,422.89 210.54,418.43 216.64,415.9" fill="#0000A0"/>
<line x1="215.79" y1="405.71" x2="220.54" y2="417.16" stroke="#0000A0" stroke-width="1.2"/>
<polygon points="222.91,422.89 217.49,418.43 223.59,415.9" fill="#0000A0"/>
<line x1="222.74" y1="405.71" x2="227.49" y2="417.16" stroke="#0000A0" stroke-width="1.2"/>
<polygon points="229.86,422.89 224.44,418.43 230.54,415.9" fill="#0000A0"/>
<line x1="229.69" y1="405.71" x2="234.44" y2="417.16" stroke="#0000A0" stroke-width="1.2"/>
<polygon points="236.81,422.89 231.39,418.43 237.49,415.9" fill="#0000A0"/>
<line x1="236.64" y1="405.71" x2="241.39" y2="417.16" stroke="#0000A0" stroke-width="1.2"/>
<polygon points="243.76,422.89 238.34,418.43 244.44,415.9" fill="#0000A0"/>
<line x1="243.59" y1="405.71" x2="248.34" y2="417.16" stroke="#0000A0" stroke-width="1.2"/>
<polygon points="250.71,422.89 245.29,418.43 251.39,415.9" fill="#0000A0"/>
<polygon points="139.4,422.9 133.98,418.43 140.08,415.91" fill="#0000A0"/>
<clipPath id="lB"><rect x="135.5" y="436.5" width="110" height="78"/></clipPath>
<rect x="135.5" y="436.5" width="110" height="78" fill="#87CEFA"/>
<rect x="170.4" y="436.5" width="61.6" height="78" fill="#80C2F2"/>
<g clip-path="url(#lB)">
<circle cx="143.6" cy="505.6" r="2.5" fill="#FFFFFF"/>
<circle cx="150.6" cy="500" r="2.5" fill="#FFFFFF"/>
<circle cx="164.4" cy="499" r="2.5" fill="#FFFFFF"/>
<circle cx="171" cy="492" r="2.5" fill="#FFFFFF"/>
<circle cx="177.6" cy="492" r="2.5" fill="#FFFFFF"/>
<circle cx="191.6" cy="500" r="2.5" fill="#FFFFFF"/>
<circle cx="204.6" cy="492" r="2.5" fill="#FFFFFF"/>
<circle cx="211.6" cy="492" r="2.5" fill="#FFFFFF"/>
<circle cx="184.6" cy="509" r="2.5" fill="#FFFFFF"/>
<circle cx="218.6" cy="509" r="2.5" fill="#FFFFFF"/>
<circle cx="225.6" cy="509" r="2.5" fill="#FFFFFF"/>
<circle cx="232.6" cy="509" r="2.5" fill="#FFFFFF"/>
<circle cx="239.6" cy="509" r="2.5" fill="#FFFFFF"/>
<circle cx="137" cy="506" r="2.5" fill="#CFCFCF"/>
<circle cx="171" cy="489.4" r="2.5" fill="#CFCFCF"/>
<circle cx="198.6" cy="489.4" r="2.5" fill="#CFCFCF"/>
<circle cx="211.6" cy="489.4" r="2.5" fill="#CFCFCF"/>
<circle cx="225.6" cy="500" r="2.5" fill="#CFCFCF"/>
<circle cx="239.6" cy="500" r="2.5" fill="#CFCFCF"/>
<circle cx="245" cy="500" r="2.5" fill="#CFCFCF"/>
<circle cx="143.6" cy="500" r="2.5" fill="#999999"/>
<circle cx="177.6" cy="489.4" r="2.5" fill="#999999"/>
<circle cx="198.6" cy="485" r="2.5" fill="#999999"/>
<circle cx="211.6" cy="485" r="2.5" fill="#999999"/>
<circle cx="218.6" cy="500" r="2.5" fill="#999999"/>
<circle cx="232.6" cy="500" r="2.5" fill="#999999"/>
<circle cx="184.6" cy="504" r="2.5" fill="#999999"/>
<circle cx="143.6" cy="481" r="2.5" fill="#555555"/>
<circle cx="150.6" cy="492.4" r="2.5" fill="#555555"/>
<circle cx="157.6" cy="492.4" r="2.5" fill="#555555"/>
<circle cx="164.4" cy="492.4" r="2.5" fill="#555555"/>
<circle cx="198.6" cy="468" r="2.5" fill="#555555"/>
<circle cx="211.6" cy="481" r="2.5" fill="#555555"/>
<circle cx="191.6" cy="489.4" r="2.5" fill="#555555"/>
<circle cx="218.6" cy="489.4" r="2.5" fill="#555555"/>
<circle cx="225.6" cy="492" r="2.5" fill="#555555"/>
<circle cx="232.6" cy="494.4" r="2.5" fill="#555555"/>
<circle cx="239.6" cy="494.4" r="2.5" fill="#555555"/>
<circle cx="184.6" cy="500" r="2.5" fill="#555555"/>
<circle cx="191.6" cy="456.4" r="2.5" fill="#000000"/>
<circle cx="198.6" cy="464.4" r="2.5" fill="#000000"/>
<circle cx="204.6" cy="468" r="2.5" fill="#000000"/>
<circle cx="211.6" cy="470" r="2.5" fill="#000000"/>
<circle cx="184.6" cy="489.4" r="2.5" fill="#000000"/>
<circle cx="218.6" cy="481" r="2.5" fill="#000000"/>
<circle cx="225.6" cy="485" r="2.5" fill="#000000"/>
<circle cx="232.6" cy="489.4" r="2.5" fill="#000000"/>
<circle cx="239.6" cy="481" r="2.5" fill="#000000"/>
<circle cx="245" cy="476" r="2.5" fill="#000000"/>
<circle cx="137" cy="475" r="2.6" fill="#AC2020"/>
<circle cx="143.6" cy="475" r="2.6" fill="#AC2020"/>
<circle cx="150.6" cy="458" r="2.6" fill="#AC2020"/>
<circle cx="157.6" cy="458" r="2.6" fill="#AC2020"/>
<circle cx="164.4" cy="460" r="2.6" fill="#AC2020"/>
<circle cx="171" cy="451" r="2.6" fill="#AC2020"/>
<circle cx="177.6" cy="449.6" r="2.6" fill="#AC2020"/>
<circle cx="184.6" cy="449.6" r="2.6" fill="#AC2020"/>
<circle cx="191.6" cy="449.6" r="2.6" fill="#AC2020"/>
<circle cx="198.6" cy="451" r="2.6" fill="#AC2020"/>
<circle cx="204.6" cy="449.6" r="2.6" fill="#AC2020"/>
<circle cx="211.6" cy="449.6" r="2.6" fill="#AC2020"/>
<circle cx="218.6" cy="449.6" r="2.6" fill="#AC2020"/>
<circle cx="225.6" cy="449.6" r="2.6" fill="#AC2020"/>
<circle cx="232.6" cy="449.6" r="2.6" fill="#AC2020"/>
<circle cx="239.6" cy="449.6" r="2.6" fill="#AC2020"/>
<circle cx="245" cy="449.6" r="2.6" fill="#AC2020"/>
</g>
<path d="M142.5 436.5V514.5M163.5 436.5V514.5M184.5 436.5V514.5M205.5 436.5V514.5M226.5 436.5V514.5M135.5 456.5H245.5M135.5 475.5H245.5M135.5 495.5H245.5" stroke="#000" stroke-width="1" stroke-dasharray="2 2" fill="none" shape-rendering="crispEdges"/>
<g clip-path="url(#lB)">
<polyline points="135.5,471 143,471 148,466.4 154,464.4 164.4,463.6 178,463.6 185,467 194,470.4 204.6,471.6 211.6,472.4 218,474.4 226,474.6 234,473.6 240,471 245.5,469.6" fill="none" stroke="#FFA000" stroke-width="2" stroke-linejoin="round"/>
</g>
<rect x="135.5" y="436.5" width="110" height="78" fill="none" stroke="#111" stroke-width="1" shape-rendering="crispEdges"/>
<clipPath id="lC"><rect x="135.5" y="523.5" width="110" height="78"/></clipPath>
<rect x="135.5" y="523.5" width="110" height="78" fill="#87CEFA"/>
<rect x="170.4" y="523.5" width="61.6" height="78" fill="#80C2F2"/>
<g clip-path="url(#lC)">
<polygon points="194,559.5 196.8,545.2 198.1,530.9 203.6,533.6 208.3,533 211.7,527.5 217.2,524.8 245.8,524.8 245.8,570.4 239,547.2 232.2,537.7 225.4,535 219.9,540.4 215.8,560.9 211.7,585.4 204.3,595.6 198.1,585.4 192.7,574.5" fill="#9A9A9A"/>
<polygon points="135.5,571.8 142.9,562.9 149.8,575.9 157.2,582.7 164,585.4 166.1,588.1 177.7,592.2 184.5,569 191.3,570.4 192.7,574.5 198.1,585.4 204.3,595.6 211.7,585.4 215.8,560.9 219.9,540.4 225.4,535 232.2,537.7 239,547.2 245.8,570.4 245.8,601.5 135.5,601.5" fill="#525252"/>
<polygon points="166.1,588.1 168.8,580 173.6,570.4 177.7,565.6 184.5,563.6 188.6,554 192.7,547.2 196.8,545.2 194,559.5 192.7,574.5 191.3,570.4 184.5,569 177.7,592.2 166.8,588.8" fill="#FFFFFF"/>
<polygon points="138.2,601.7 149.8,590.8 155.9,593.6 164,601.7" fill="#2C2C2C"/>
<polyline points="206.3,541.8 209,532.3 213.1,526.8 217.2,524.8 232.2,524.8 237.6,533.6 244.4,543.2" fill="none" stroke="#FFFFFF" stroke-width="1.1"/>
<polyline points="185.2,600.4 190,580 192.7,574.5" fill="none" stroke="#E8E8E8" stroke-width="1"/>
<polyline points="135.5,588.8 143.6,598.3 154.5,600.4" fill="none" stroke="#A0A0A0" stroke-width="0.8"/>
</g>
<path d="M218.3 601V590.2" stroke="#FFB400" stroke-width="3" fill="none"/>
<path d="M225.4 601V590.2" stroke="#FFB400" stroke-width="3" fill="none"/>
<path d="M232.2 601V590.2" stroke="#FFB400" stroke-width="3" fill="none"/>
<path d="M239.4 601V590.2" stroke="#FFB400" stroke-width="3" fill="none"/>
<path d="M142.5 523.5V601.5M163.5 523.5V601.5M184.5 523.5V601.5M205.5 523.5V601.5M226.5 523.5V601.5M135.5 543.5H245.5M135.5 562.5H245.5M135.5 582.5H245.5" stroke="#000" stroke-width="1" stroke-dasharray="2 2" fill="none" shape-rendering="crispEdges"/>
<rect x="135.5" y="523.5" width="110" height="78" fill="none" stroke="#111" stroke-width="1" shape-rendering="crispEdges"/>
<g font-family='"Liberation Sans", sans-serif'>
<text x="5.3" y="18" font-size="11" fill="#000" textLength="60" lengthAdjust="spacingAndGlyphs" stroke="#000" stroke-width="0.12">Czas lokalny</text>
<text x="5.6" y="30" font-size="10.5" fill="#000" textLength="55.2" lengthAdjust="spacingAndGlyphs" stroke="#000" stroke-width="0.12">(CET/CEST)</text>
<text x="5.8" y="46" font-size="11" fill="#A52A2A" textLength="94" lengthAdjust="spacingAndGlyphs" stroke="#A52A2A" stroke-width="0.12">Temperatura gruntu</text>
<text x="27.4" y="56" font-size="11" fill="#A52A2A" textLength="39.2" lengthAdjust="spacingAndGlyphs" stroke="#A52A2A" stroke-width="0.12">max/min</text>
<text x="4.9" y="68" font-size="11" fill="#000" textLength="62.6" lengthAdjust="spacingAndGlyphs" stroke="#000" stroke-width="0.12">Temperatura:</text>
<text x="12.4" y="79.5" font-size="11" fill="#FF0000" textLength="78.2" lengthAdjust="spacingAndGlyphs" stroke="#FF0000" stroke-width="0.25">punkt środkowy</text>
<text x="27.4" y="90" font-size="11" fill="#FFD8CC" textLength="39.2" lengthAdjust="spacingAndGlyphs" stroke="#FFD8CC" stroke-width="0.12">max/min</text>
<text x="9.6" y="102" font-size="11" fill="#0000FF" textLength="58" lengthAdjust="spacingAndGlyphs" stroke="#0000FF" stroke-width="0.25">odczuwana</text>
<text x="27.4" y="112" font-size="11" fill="#B8E2FF" textLength="39.2" lengthAdjust="spacingAndGlyphs" stroke="#B8E2FF" stroke-width="0.12">max/min</text>
<text x="6.5" y="124" font-size="11" fill="#6A5ACD" textLength="86.6" lengthAdjust="spacingAndGlyphs" stroke="#6A5ACD" stroke-width="0.12">Temp. punktu rosy</text>
<text x="5.4" y="141" font-size="11" fill="#FF0000" textLength="95.4" lengthAdjust="spacingAndGlyphs" stroke="#FF0000" stroke-width="0.12">Opad powyżej skali</text>
<text x="5.8" y="155" font-size="11" fill="#E8501A" textLength="98" lengthAdjust="spacingAndGlyphs" stroke="#E8501A" stroke-width="0.12">Wilgotność względna</text>
<text x="5.8" y="169" font-size="11" fill="#000" textLength="85.2" lengthAdjust="spacingAndGlyphs" stroke="#000" stroke-width="0.12">Wystąpienie burzy</text>
<text x="5.4" y="183" font-size="11" fill="#00A800" textLength="40.2" lengthAdjust="spacingAndGlyphs" stroke="#00A800" stroke-width="0.12">Deszcz:</text>
<text x="49.2" y="183" font-size="11" fill="#00A800" textLength="20" lengthAdjust="spacingAndGlyphs" stroke="#00A800" stroke-width="0.12">max</text>
<text x="48.8" y="194" font-size="11" fill="#00A800" textLength="29.6" lengthAdjust="spacingAndGlyphs" stroke="#00A800" stroke-width="0.12">średni</text>
<text x="5.4" y="205" font-size="11" fill="#2040D0" textLength="30.2" lengthAdjust="spacingAndGlyphs" stroke="#2040D0" stroke-width="0.12">Śnieg:</text>
<text x="48.8" y="205" font-size="11" fill="#2040D0" textLength="19.6" lengthAdjust="spacingAndGlyphs" stroke="#2040D0" stroke-width="0.12">max</text>
<text x="48.8" y="216" font-size="11" fill="#2040D0" textLength="29.6" lengthAdjust="spacingAndGlyphs" stroke="#2040D0" stroke-width="0.12">średni</text>
<text x="4.9" y="228" font-size="11" fill="#FF0000" textLength="89.4" lengthAdjust="spacingAndGlyphs" stroke="#FF0000" stroke-width="0.12">Wystąpienie opadu</text>
<text x="5.1" y="240.4" font-size="11" fill="#FF0000" textLength="72" lengthAdjust="spacingAndGlyphs" stroke="#FF0000" stroke-width="0.12">konwekcyjnego</text>
<text x="4.4" y="267" font-size="11" fill="#000" textLength="42.8" lengthAdjust="spacingAndGlyphs" stroke="#000" stroke-width="0.12">Ciśnienie</text>
<text x="4.6" y="280" font-size="11" fill="#000" textLength="66.6" lengthAdjust="spacingAndGlyphs" stroke="#000" stroke-width="0.12">zredukowane</text>
<text x="4.6" y="293" font-size="11" fill="#000" textLength="87.6" lengthAdjust="spacingAndGlyphs" stroke="#000" stroke-width="0.12">do poziomu morza</text>
<text x="4.9" y="322" font-size="11" fill="#000" textLength="67" lengthAdjust="spacingAndGlyphs" stroke="#000" stroke-width="0.12">Wiatr na <tspan font-family='"Liberation Serif", serif' font-size="11.5">10</tspan>m:</text>
<text x="9.6" y="338" font-size="11" fill="#FF0000" textLength="101.4" lengthAdjust="spacingAndGlyphs" stroke="#FF0000" stroke-width="0.12">poryw powyżej skali</text>
<text x="9.6" y="352" font-size="11" fill="#FF0000" textLength="94.8" lengthAdjust="spacingAndGlyphs" stroke="#FF0000" stroke-width="0.12">max porywy wiatru</text>
<text x="9.6" y="372" font-size="11" fill="#00009C" textLength="78.8" lengthAdjust="spacingAndGlyphs" stroke="#00009C" stroke-width="0.12">prędkość wiatru</text>
<text x="10.6" y="385" font-size="11" fill="#00009C" textLength="88" lengthAdjust="spacingAndGlyphs" stroke="#00009C" stroke-width="0.12">w środku obszaru</text>
<text x="9.4" y="413" font-size="11" fill="#00009C" textLength="74.2" lengthAdjust="spacingAndGlyphs" stroke="#00009C" stroke-width="0.12">kierunek wiatru</text>
<text x="5.6" y="433" font-size="11" fill="#A52A2A" textLength="91.6" lengthAdjust="spacingAndGlyphs" stroke="#A52A2A" stroke-width="0.12">Wierzchołek chmur</text>
<text x="5.4" y="448" font-size="11" fill="#000" textLength="85.8" lengthAdjust="spacingAndGlyphs" stroke="#000" stroke-width="0.12">Podstawa chmur*</text>
<text x="5.6" y="459" font-size="11" fill="#000" textLength="47.6" lengthAdjust="spacingAndGlyphs" stroke="#000" stroke-width="0.12">o pokryciu</text>
<text x="10.6" y="472" font-size="11" fill="#000" textLength="43.8" lengthAdjust="spacingAndGlyphs" stroke="#000" stroke-width="0.12">&gt; 7.9 okt.</text>
<text x="10.6" y="483" font-size="11" fill="#555555" textLength="43.8" lengthAdjust="spacingAndGlyphs" stroke="#555555" stroke-width="0.12">&gt; 6.5 okt.</text>
<text x="9.8" y="494" font-size="11" fill="#999999" textLength="43.8" lengthAdjust="spacingAndGlyphs" stroke="#999999" stroke-width="0.12">&gt; 4.5 okt.</text>
<text x="10.4" y="504" font-size="11" fill="#D0D0D0" textLength="43.8" lengthAdjust="spacingAndGlyphs" stroke="#D0D0D0" stroke-width="0.12">&gt; 2.5 okt.</text>
<rect x="11" y="505" width="44" height="12" fill="#87CEFA"/>
<text x="10.8" y="515" font-size="11" fill="#FFFFFF" textLength="43.8" lengthAdjust="spacingAndGlyphs" stroke="#FFFFFF" stroke-width="0.12">&gt; 0.1 okt.</text>
<text x="5.6" y="530" font-size="11" fill="#FF7F00" textLength="57.6" lengthAdjust="spacingAndGlyphs" stroke="#FF7F00" stroke-width="0.12">Widzialność</text>
<text x="5.2" y="547" font-size="11" fill="#000" textLength="39.2" lengthAdjust="spacingAndGlyphs" stroke="#000" stroke-width="0.12">Chmury:</text>
<rect x="10" y="551" width="41" height="12" fill="#87CEFA"/>
<text x="11.2" y="560" font-size="11" fill="#FFFFFF" textLength="39.4" lengthAdjust="spacingAndGlyphs" stroke="#FFFFFF" stroke-width="0.12">wysokie</text>
<text x="9.6" y="573" font-size="11" fill="#999999" textLength="35.8" lengthAdjust="spacingAndGlyphs" stroke="#999999" stroke-width="0.12">średnie</text>
<text x="9.6" y="585" font-size="11" fill="#444444" textLength="26.8" lengthAdjust="spacingAndGlyphs" stroke="#444444" stroke-width="0.12">niskie</text>
<text x="9.6" y="597" font-size="11" fill="#222222" textLength="61.6" lengthAdjust="spacingAndGlyphs" stroke="#222222" stroke-width="0.12">bardzo niskie</text>
<text x="5.6" y="608.4" font-size="11" fill="#FFB400" textLength="20.6" lengthAdjust="spacingAndGlyphs" stroke="#FFB400" stroke-width="0.12">Mgła</text>
<text x="5.4" y="626" font-size="11" fill="#000" textLength="131.8" lengthAdjust="spacingAndGlyphs" stroke="#000" stroke-width="0.12">Czas uniwersalny (UTC)</text>
<text x="4.6" y="652.5" font-size="10" fill="#000" stroke="#000" stroke-width="0.12">*</text>
<text x="11.2" y="651" font-size="9.5" fill="#000" textLength="97" lengthAdjust="spacingAndGlyphs" font-weight="bold" stroke="#000" stroke-width="0.12">powyżej poziomu morza</text>
<polyline points="68,16.5 133,16.5 155,44" fill="none" stroke="#000" stroke-width="1"/>
<polyline points="102,44.5 120,44.5 149,83" fill="none" stroke="#A52A2A" stroke-width="1"/>
<polyline points="92,76.5 114,76.5" fill="none" stroke="#FF0000" stroke-width="1"/>
<polyline points="130,76.5 133,76.5 158,104" fill="none" stroke="#FF0000" stroke-width="1"/>
<polyline points="70,99.5 132,99.5 138,102.4" fill="none" stroke="#0000FF" stroke-width="1"/>
<polyline points="95,120.5 132,120.5 141,113" fill="none" stroke="#6A5ACD" stroke-width="1"/>
<polyline points="103.4,137.5 141,137.5 146,146" fill="none" stroke="#FF0000" stroke-width="1"/>
<polyline points="107,151.5 112,151.5" fill="none" stroke="#E8501A" stroke-width="1"/>
<polyline points="130,151.5 144,158" fill="none" stroke="#E8501A" stroke-width="1"/>
<polyline points="94,166.5 113,166.5" fill="none" stroke="#000" stroke-width="1"/>
<polyline points="129.6,166.5 133,167.4 137,172" fill="none" stroke="#000" stroke-width="1"/>
<polyline points="71,179.5 139.6,179.5" fill="none" stroke="#00A800" stroke-width="1"/>
<polyline points="80,190.5 143,190.5" fill="none" stroke="#00A800" stroke-width="1"/>
<polyline points="70,202.5 112,202.5" fill="none" stroke="#2040D0" stroke-width="1"/>
<polyline points="130,202.5 133,201 161,171" fill="none" stroke="#2040D0" stroke-width="1"/>
<polyline points="81,213.5 132,213.5 158,185" fill="none" stroke="#2040D0" stroke-width="1"/>
<polyline points="96.6,225.5 144,225.5 147,221" fill="none" stroke="#FF0000" stroke-width="1"/>
<polyline points="51,264.5 131,264.5 136,262" fill="none" stroke="#000" stroke-width="1"/>
<polyline points="112.4,334.5 117,334.5" fill="none" stroke="#FF0000" stroke-width="1"/>
<polyline points="130.4,334.5 138,317.5" fill="none" stroke="#FF0000" stroke-width="1"/>
<polyline points="107,348.5 132,348.5 143,341" fill="none" stroke="#FF0000" stroke-width="1"/>
<polyline points="92,367.5 136,367.5" fill="none" stroke="#00009C" stroke-width="1"/>
<polyline points="86,410.5 138,410.5" fill="none" stroke="#00009C" stroke-width="1"/>
<polyline points="100,430.5 130,430.5 184,447" fill="none" stroke="#A52A2A" stroke-width="1"/>
<polyline points="57,468.5 132,468.5 191.6,456.4" fill="none" stroke="#000" stroke-width="1"/>
<polyline points="57,480.5 143,480.5" fill="none" stroke="#555555" stroke-width="1"/>
<polyline points="57,490.5 131,490.5 144,500" fill="none" stroke="#999999" stroke-width="1"/>
<polyline points="57,500.5 132,500.5 137,505.6" fill="none" stroke="#D0D0D0" stroke-width="1"/>
<polyline points="55,510.3 136,510.3" fill="none" stroke="#9AD4FA" stroke-width="3"/>
<polyline points="55,510.3 136,510.3" fill="none" stroke="#FFFFFF" stroke-width="1"/>
<polyline points="67,527.5 129,527.5 174,464.4" fill="none" stroke="#FF8C00" stroke-width="1"/>
<polyline points="53,557.5 184,557.5" fill="none" stroke="#9AD4FA" stroke-width="3"/>
<polyline points="53,557.5 184,557.5" fill="none" stroke="#FFFFFF" stroke-width="1"/>
<polyline points="49,571.5 192,571.5" fill="none" stroke="#999999" stroke-width="1"/>
<polyline points="40,582.5 121,582.5" fill="none" stroke="#444444" stroke-width="1"/>
<polyline points="130,582.5 138,582.5" fill="none" stroke="#444444" stroke-width="1"/>
<polyline points="74,594.5 136,594.5 144,599" fill="none" stroke="#222222" stroke-width="1"/>
<polyline points="30,605.5 217,605.5 218.6,601" fill="none" stroke="#FFB400" stroke-width="1"/>
<polyline points="139,623.5 148,623.5 157,611" fill="none" stroke="#000" stroke-width="1"/>
<text x="128.3" y="63" font-size="11" fill="#000" text-anchor="end" stroke="#000" stroke-width="0.12">30</text>
<text x="128.3" y="81" font-size="11" fill="#000" text-anchor="end" stroke="#000" stroke-width="0.12">20</text>
<text x="128.3" y="98" font-size="11" fill="#000" text-anchor="end" stroke="#000" stroke-width="0.12">10</text>
<text x="128.3" y="115" font-size="11" fill="#000" text-anchor="end" stroke="#000" stroke-width="0.12">0</text>
<text x="128.3" y="133" font-size="11" fill="#000" text-anchor="end" stroke="#000" stroke-width="0.12">-10</text>
<text x="128.3" y="154" font-size="11" fill="#000" text-anchor="end" stroke="#000" stroke-width="0.12">2.0</text>
<text x="128.3" y="172" font-size="11" fill="#000" text-anchor="end" stroke="#000" stroke-width="0.12">1.5</text>
<text x="128.3" y="189" font-size="11" fill="#000" text-anchor="end" stroke="#000" stroke-width="0.12">1.0</text>
<text x="128.3" y="207" font-size="11" fill="#000" text-anchor="end" stroke="#000" stroke-width="0.12">0.5</text>
<text x="128.3" y="224" font-size="11" fill="#000" text-anchor="end" stroke="#000" stroke-width="0.12">0.0</text>
<text x="128.3" y="235" font-size="11" fill="#000" text-anchor="end" stroke="#000" stroke-width="0.12">1018</text>
<text x="128.3" y="258" font-size="11" fill="#000" text-anchor="end" stroke="#000" stroke-width="0.12">1016</text>
<text x="128.3" y="282" font-size="11" fill="#000" text-anchor="end" stroke="#000" stroke-width="0.12">1014</text>
<text x="128.3" y="305" font-size="11" fill="#000" text-anchor="end" stroke="#000" stroke-width="0.12">1012</text>
<text x="128.3" y="319" font-size="11" fill="#000" text-anchor="end" stroke="#000" stroke-width="0.12">20</text>
<text x="128.3" y="338" font-size="11" fill="#000" text-anchor="end" stroke="#000" stroke-width="0.12">15</text>
<text x="128.3" y="358" font-size="11" fill="#000" text-anchor="end" stroke="#000" stroke-width="0.12">10</text>
<text x="128.3" y="377" font-size="11" fill="#000" text-anchor="end" stroke="#000" stroke-width="0.12">5</text>
<text x="128.3" y="396" font-size="11" fill="#000" text-anchor="end" stroke="#000" stroke-width="0.12">0</text>
<text x="128.3" y="440" font-size="11" fill="#000" text-anchor="end" stroke="#000" stroke-width="0.12">15.0</text>
<text x="128.3" y="460" font-size="11" fill="#000" text-anchor="end" stroke="#000" stroke-width="0.12">7.0</text>
<text x="128.3" y="479" font-size="11" fill="#000" text-anchor="end" stroke="#000" stroke-width="0.12">2.0</text>
<text x="128.3" y="499" font-size="11" fill="#000" text-anchor="end" stroke="#000" stroke-width="0.12">0.5</text>
<text x="128.3" y="518" font-size="11" fill="#000" text-anchor="end" stroke="#000" stroke-width="0.12">0.0</text>
<text x="128.3" y="527" font-size="11" fill="#000" text-anchor="end" stroke="#000" stroke-width="0.12">8</text>
<text x="128.3" y="547" font-size="11" fill="#000" text-anchor="end" stroke="#000" stroke-width="0.12">6</text>
<text x="128.3" y="567" font-size="11" fill="#000" text-anchor="end" stroke="#000" stroke-width="0.12">4</text>
<text x="128.3" y="586" font-size="11" fill="#000" text-anchor="end" stroke="#000" stroke-width="0.12">2</text>
<text x="128.3" y="605" font-size="11" fill="#000" text-anchor="end" stroke="#000" stroke-width="0.12">0</text>
<text x="267" y="63" font-size="11" fill="#000" text-anchor="end" stroke="#000" stroke-width="0.12">30</text>
<text x="267" y="81" font-size="11" fill="#000" text-anchor="end" stroke="#000" stroke-width="0.12">20</text>
<text x="267" y="98" font-size="11" fill="#000" text-anchor="end" stroke="#000" stroke-width="0.12">10</text>
<text x="267" y="115" font-size="11" fill="#000" text-anchor="end" stroke="#000" stroke-width="0.12">0</text>
<text x="267" y="133" font-size="11" fill="#000" text-anchor="end" stroke="#000" stroke-width="0.12">-10</text>
<text x="253.6" y="154" font-size="11" fill="#E8501A" stroke="#E8501A" stroke-width="0.12">96</text>
<text x="253.6" y="172" font-size="11" fill="#E8501A" stroke="#E8501A" stroke-width="0.12">84</text>
<text x="253.6" y="189" font-size="11" fill="#E8501A" stroke="#E8501A" stroke-width="0.12">73</text>
<text x="253.6" y="207" font-size="11" fill="#E8501A" stroke="#E8501A" stroke-width="0.12">61</text>
<text x="253.6" y="224" font-size="11" fill="#E8501A" stroke="#E8501A" stroke-width="0.12">50</text>
<text x="250.6" y="235" font-size="11" fill="#000" stroke="#000" stroke-width="0.12">1018</text>
<text x="250.6" y="258" font-size="11" fill="#000" stroke="#000" stroke-width="0.12">1016</text>
<text x="250.6" y="282" font-size="11" fill="#000" stroke="#000" stroke-width="0.12">1014</text>
<text x="250.6" y="305" font-size="11" fill="#000" stroke="#000" stroke-width="0.12">1012</text>
<text x="250.8" y="319" font-size="11" fill="#000" stroke="#000" stroke-width="0.12">72</text>
<text x="250.8" y="338" font-size="11" fill="#000" stroke="#000" stroke-width="0.12">54</text>
<text x="250.8" y="358" font-size="11" fill="#000" stroke="#000" stroke-width="0.12">36</text>
<text x="250.8" y="377" font-size="11" fill="#000" stroke="#000" stroke-width="0.12">18</text>
<text x="253.6" y="396" font-size="11" fill="#000" stroke="#000" stroke-width="0.12">0</text>
<text x="250.8" y="440" font-size="11" fill="#FF7D00" stroke="#FF7D00" stroke-width="0.12">100</text>
<text x="250.8" y="460" font-size="11" fill="#FF7D00" stroke="#FF7D00" stroke-width="0.12">20</text>
<text x="250.8" y="479" font-size="11" fill="#FF7D00" stroke="#FF7D00" stroke-width="0.12">5</text>
<text x="250.8" y="499" font-size="11" fill="#FF7D00" stroke="#FF7D00" stroke-width="0.12">1</text>
<text x="250.8" y="518" font-size="11" fill="#FF7D00" stroke="#FF7D00" stroke-width="0.12">0</text>
<text x="250.8" y="527" font-size="11" fill="#FF7D00" stroke="#FF7D00" stroke-width="0.12">1</text>
<text x="250.8" y="547" font-size="11" fill="#FF7D00" stroke="#FF7D00" stroke-width="0.12">0.75</text>
<text x="250.8" y="566" font-size="11" fill="#FF7D00" stroke="#FF7D00" stroke-width="0.12">0.5</text>
<text x="250.8" y="586" font-size="11" fill="#FF7D00" stroke="#FF7D00" stroke-width="0.12">0.25</text>
<text x="250.8" y="605" font-size="11" fill="#FF7D00" stroke="#FF7D00" stroke-width="0.12">0</text>
<text x="164" y="50.7" font-size="12.7" fill="#000" text-anchor="middle" stroke="#000" stroke-width="0.12">20</text>
<text x="205" y="50.7" font-size="12.7" fill="#000" text-anchor="middle" stroke="#000" stroke-width="0.12">02</text>
<text x="245" y="50.7" font-size="12.7" fill="#000" text-anchor="middle" stroke="#000" stroke-width="0.12">08</text>
<text x="164.6" y="614.2" font-size="12.7" fill="#000" text-anchor="middle" stroke="#000" stroke-width="0.12">18</text>
<text x="204.2" y="614.2" font-size="12.7" fill="#000" text-anchor="middle" stroke="#000" stroke-width="0.12">00</text>
<text x="245" y="614.2" font-size="12.7" fill="#000" text-anchor="middle" stroke="#000" stroke-width="0.12">06</text>
<text x="344.8" y="84" font-size="11" fill="#000" text-anchor="end" stroke="#000" stroke-width="0.12">5</text>
<text x="344.8" y="117" font-size="11" fill="#000" text-anchor="end" stroke="#000" stroke-width="0.12">0</text>
<text x="344.8" y="151" font-size="11" fill="#000" text-anchor="end" stroke="#000" stroke-width="0.12">5</text>
<text x="344.8" y="166" font-size="11" fill="#000" text-anchor="end" stroke="#000" stroke-width="0.12">4</text>
<text x="344.8" y="181" font-size="11" fill="#000" text-anchor="end" stroke="#000" stroke-width="0.12">3</text>
<text x="344.8" y="196" font-size="11" fill="#000" text-anchor="end" stroke="#000" stroke-width="0.12">2</text>
<text x="344.8" y="211" font-size="11" fill="#000" text-anchor="end" stroke="#000" stroke-width="0.12">1</text>
<text x="344.8" y="226" font-size="11" fill="#000" text-anchor="end" stroke="#000" stroke-width="0.12">0</text>
<text x="344.8" y="251" font-size="11" fill="#000" text-anchor="end" stroke="#000" stroke-width="0.12">1025</text>
<text x="344.8" y="272" font-size="11" fill="#000" text-anchor="end" stroke="#000" stroke-width="0.12">1020</text>
<text x="344.8" y="292" font-size="11" fill="#000" text-anchor="end" stroke="#000" stroke-width="0.12">1015</text>
<text x="344.8" y="313" font-size="11" fill="#000" text-anchor="end" stroke="#000" stroke-width="0.12">1010</text>
<text x="344.8" y="323" font-size="11" fill="#000" text-anchor="end" stroke="#000" stroke-width="0.12">20</text>
<text x="344.8" y="342" font-size="11" fill="#000" text-anchor="end" stroke="#000" stroke-width="0.12">15</text>
<text x="344.8" y="361" font-size="11" fill="#000" text-anchor="end" stroke="#000" stroke-width="0.12">10</text>
<text x="344.8" y="380" font-size="11" fill="#000" text-anchor="end" stroke="#000" stroke-width="0.12">5</text>
<text x="344.8" y="400" font-size="11" fill="#000" text-anchor="end" stroke="#000" stroke-width="0.12">0</text>
<text x="344.8" y="442" font-size="11" fill="#000" text-anchor="end" stroke="#000" stroke-width="0.12">15.0</text>
<text x="344.8" y="462" font-size="11" fill="#000" text-anchor="end" stroke="#000" stroke-width="0.12">7.0</text>
<text x="344.8" y="481" font-size="11" fill="#000" text-anchor="end" stroke="#000" stroke-width="0.12">2.0</text>
<text x="344.8" y="501" font-size="11" fill="#000" text-anchor="end" stroke="#000" stroke-width="0.12">0.5</text>
<text x="344.8" y="520" font-size="11" fill="#000" text-anchor="end" stroke="#000" stroke-width="0.12">0.0</text>
<text x="344.8" y="530" font-size="11" fill="#000" text-anchor="end" stroke="#000" stroke-width="0.12">8</text>
<text x="344.8" y="549" font-size="11" fill="#000" text-anchor="end" stroke="#000" stroke-width="0.12">6</text>
<text x="344.8" y="569" font-size="11" fill="#000" text-anchor="end" stroke="#000" stroke-width="0.12">4</text>
<text x="344.8" y="588" font-size="11" fill="#000" text-anchor="end" stroke="#000" stroke-width="0.12">2</text>
<text x="344.8" y="608" font-size="11" fill="#000" text-anchor="end" stroke="#000" stroke-width="0.12">0</text>
<text x="847.6" y="84" font-size="11" fill="#000" stroke="#000" stroke-width="0.12">5</text>
<text x="847.6" y="117" font-size="11" fill="#000" stroke="#000" stroke-width="0.12">0</text>
<text x="844.4" y="151" font-size="11" fill="#E8501A" stroke="#E8501A" stroke-width="0.12">100</text>
<text x="847.4" y="166" font-size="11" fill="#E8501A" stroke="#E8501A" stroke-width="0.12">95</text>
<text x="847.4" y="181" font-size="11" fill="#E8501A" stroke="#E8501A" stroke-width="0.12">90</text>
<text x="847.4" y="196" font-size="11" fill="#E8501A" stroke="#E8501A" stroke-width="0.12">85</text>
<text x="847.4" y="211" font-size="11" fill="#E8501A" stroke="#E8501A" stroke-width="0.12">80</text>
<text x="847.4" y="226" font-size="11" fill="#E8501A" stroke="#E8501A" stroke-width="0.12">75</text>
<text x="844.4" y="251" font-size="11" fill="#000" stroke="#000" stroke-width="0.12">769</text>
<text x="844.4" y="272" font-size="11" fill="#000" stroke="#000" stroke-width="0.12">765</text>
<text x="844.4" y="292" font-size="11" fill="#000" stroke="#000" stroke-width="0.12">761</text>
<text x="844.4" y="313" font-size="11" fill="#000" stroke="#000" stroke-width="0.12">758</text>
<text x="844.4" y="323" font-size="11" fill="#000" stroke="#000" stroke-width="0.12">72</text>
<text x="844.4" y="342" font-size="11" fill="#000" stroke="#000" stroke-width="0.12">54</text>
<text x="844.4" y="361" font-size="11" fill="#000" stroke="#000" stroke-width="0.12">36</text>
<text x="844.4" y="380" font-size="11" fill="#000" stroke="#000" stroke-width="0.12">18</text>
<text x="847.4" y="400" font-size="11" fill="#000" stroke="#000" stroke-width="0.12">0</text>
<text x="844.4" y="442" font-size="11" fill="#FF7D00" stroke="#FF7D00" stroke-width="0.12">100</text>
<text x="844.4" y="462" font-size="11" fill="#FF7D00" stroke="#FF7D00" stroke-width="0.12">20</text>
<text x="844.4" y="481" font-size="11" fill="#FF7D00" stroke="#FF7D00" stroke-width="0.12">5</text>
<text x="844.4" y="501" font-size="11" fill="#FF7D00" stroke="#FF7D00" stroke-width="0.12">1</text>
<text x="844.4" y="520" font-size="11" fill="#FF7D00" stroke="#FF7D00" stroke-width="0.12">0</text>
<text x="844.4" y="530" font-size="11" fill="#FF7D00" stroke="#FF7D00" stroke-width="0.12">1</text>
<text x="844.4" y="549" font-size="11" fill="#FF7D00" stroke="#FF7D00" stroke-width="0.12">0.75</text>
<text x="844.4" y="569" font-size="11" fill="#FF7D00" stroke="#FF7D00" stroke-width="0.12">0.5</text>
<text x="844.4" y="588" font-size="11" fill="#FF7D00" stroke="#FF7D00" stroke-width="0.12">0.25</text>
<text x="844.4" y="608" font-size="11" fill="#FF7D00" stroke="#FF7D00" stroke-width="0.12">0</text>
<text x="361.8" y="54.5" font-size="12.7" fill="#000" text-anchor="middle" stroke="#000" stroke-width="0.12">16</text>
<text x="361.8" y="617" font-size="12.7" fill="#000" text-anchor="middle" stroke="#000" stroke-width="0.12">15</text>
<text x="400.2" y="54.5" font-size="12.7" fill="#000" text-anchor="middle" stroke="#000" stroke-width="0.12">22</text>
<text x="400.2" y="617" font-size="12.7" fill="#000" text-anchor="middle" stroke="#000" stroke-width="0.12">21</text>
<text x="438.6" y="54.5" font-size="12.7" fill="#000" text-anchor="middle" stroke="#000" stroke-width="0.12">04</text>
<text x="438.6" y="617" font-size="12.7" fill="#000" text-anchor="middle" stroke="#000" stroke-width="0.12">03</text>
<text x="477" y="54.5" font-size="12.7" fill="#000" text-anchor="middle" stroke="#000" stroke-width="0.12">10</text>
<text x="477" y="617" font-size="12.7" fill="#000" text-anchor="middle" stroke="#000" stroke-width="0.12">09</text>
<text x="515.4" y="54.5" font-size="12.7" fill="#000" text-anchor="middle" stroke="#000" stroke-width="0.12">16</text>
<text x="515.4" y="617" font-size="12.7" fill="#000" text-anchor="middle" stroke="#000" stroke-width="0.12">15</text>
<text x="553.8" y="54.5" font-size="12.7" fill="#000" text-anchor="middle" stroke="#000" stroke-width="0.12">22</text>
<text x="553.8" y="617" font-size="12.7" fill="#000" text-anchor="middle" stroke="#000" stroke-width="0.12">21</text>
<text x="592.2" y="54.5" font-size="12.7" fill="#000" text-anchor="middle" stroke="#000" stroke-width="0.12">04</text>
<text x="592.2" y="617" font-size="12.7" fill="#000" text-anchor="middle" stroke="#000" stroke-width="0.12">03</text>
<text x="630.6" y="54.5" font-size="12.7" fill="#000" text-anchor="middle" stroke="#000" stroke-width="0.12">10</text>
<text x="630.6" y="617" font-size="12.7" fill="#000" text-anchor="middle" stroke="#000" stroke-width="0.12">09</text>
<text x="669" y="54.5" font-size="12.7" fill="#000" text-anchor="middle" stroke="#000" stroke-width="0.12">16</text>
<text x="669" y="617" font-size="12.7" fill="#000" text-anchor="middle" stroke="#000" stroke-width="0.12">15</text>
<text x="707.4" y="54.5" font-size="12.7" fill="#000" text-anchor="middle" stroke="#000" stroke-width="0.12">22</text>
<text x="707.4" y="617" font-size="12.7" fill="#000" text-anchor="middle" stroke="#000" stroke-width="0.12">21</text>
<text x="745.8" y="54.5" font-size="12.7" fill="#000" text-anchor="middle" stroke="#000" stroke-width="0.12">04</text>
<text x="745.8" y="617" font-size="12.7" fill="#000" text-anchor="middle" stroke="#000" stroke-width="0.12">03</text>
<text x="784.2" y="54.5" font-size="12.7" fill="#000" text-anchor="middle" stroke="#000" stroke-width="0.12">10</text>
<text x="784.2" y="617" font-size="12.7" fill="#000" text-anchor="middle" stroke="#000" stroke-width="0.12">09</text>
<text x="822.6" y="54.5" font-size="12.7" fill="#000" text-anchor="middle" stroke="#000" stroke-width="0.12">16</text>
<text x="822.6" y="617" font-size="12.7" fill="#000" text-anchor="middle" stroke="#000" stroke-width="0.12">15</text>
<text x="306.4" y="54.7" font-size="13" fill="#000" textLength="24.8" lengthAdjust="spacingAndGlyphs" stroke="#000" stroke-width="0.12">CET</text>
<text x="859.6" y="54.7" font-size="13" fill="#000" textLength="24.8" lengthAdjust="spacingAndGlyphs" stroke="#000" stroke-width="0.12">CET</text>
<text x="306.2" y="617" font-size="13" fill="#000" textLength="24.2" lengthAdjust="spacingAndGlyphs" stroke="#000" stroke-width="0.12">UTC</text>
<text x="859.4" y="617" font-size="13" fill="#000" textLength="24.2" lengthAdjust="spacingAndGlyphs" stroke="#000" stroke-width="0.12">UTC</text>
<text x="465.5" y="41" font-size="13" fill="#000" textLength="59.5" lengthAdjust="spacingAndGlyphs" stroke="#000" stroke-width="0.12">sob, 13.12</text>
<text x="621" y="41" font-size="13" fill="#000" textLength="56" lengthAdjust="spacingAndGlyphs" stroke="#000" stroke-width="0.12">nie, 14.12</text>
<text x="772.5" y="41" font-size="13" fill="#000" textLength="60" lengthAdjust="spacingAndGlyphs" stroke="#000" stroke-width="0.12">pon, 15.12</text>
<text x="480.6" y="630" font-size="13" fill="#000" textLength="31.2" lengthAdjust="spacingAndGlyphs" stroke="#000" stroke-width="0.12">13.12</text>
<text x="633.4" y="630" font-size="13" fill="#000" textLength="31.2" lengthAdjust="spacingAndGlyphs" stroke="#000" stroke-width="0.12">14.12</text>
<text x="787" y="630" font-size="13" fill="#000" textLength="31.2" lengthAdjust="spacingAndGlyphs" stroke="#000" stroke-width="0.12">15.12</text>
<text x="289.8" y="13" font-size="12.6" fill="#00008B" textLength="146.8" lengthAdjust="spacingAndGlyphs" stroke="#00008B" stroke-width="0.12">wschód słońca: 07:43 CET</text>
<text x="291.2" y="26" font-size="12.6" fill="#00008B" textLength="143.6" lengthAdjust="spacingAndGlyphs" stroke="#00008B" stroke-width="0.12">zachód słońca: 15:10 CET</text>
<text x="531.6" y="13" font-size="12.6" fill="#00008B" textLength="127.2" lengthAdjust="spacingAndGlyphs" stroke="#00008B" stroke-width="0.12">21°43'31"E, 53°59'46"N</text>
<text x="554.3" y="25.6" font-size="12.6" fill="#00008B" textLength="81.5" lengthAdjust="spacingAndGlyphs" stroke="#00008B" stroke-width="0.12">(x=261,  y=355)</text>
<text x="738.8" y="13" font-size="12.6" fill="#00008B" textLength="158.5" lengthAdjust="spacingAndGlyphs" stroke="#00008B" stroke-width="0.12">wysokość (min, środek, max)</text>
<text x="770.3" y="26" font-size="12.6" fill="#00008B" textLength="95.5" lengthAdjust="spacingAndGlyphs" stroke="#00008B" stroke-width="0.12">121 - 141 - 157 m</text>
<text x="309.2" y="652" font-size="14" fill="#00008B" textLength="108.6" lengthAdjust="spacingAndGlyphs" stroke="#00008B" stroke-width="0.12">meteo@icm.edu.pl</text>
<text x="623.2" y="652.2" font-size="14" fill="#00008B" textLength="252.6" lengthAdjust="spacingAndGlyphs" stroke="#00008B" stroke-width="0.12">© 2007-2025 ICM, Uniwersytet Warszawski</text>
<text transform="translate(293.2 96.8) rotate(-90)" font-size="12.3" fill="#00008B" stroke="#00008B" stroke-width="0.12" text-anchor="middle" textLength="67.2" lengthAdjust="spacingAndGlyphs">temperatura</text>
<text transform="translate(306.4 97) rotate(-90)" font-size="12.3" fill="#00008B" stroke="#00008B" stroke-width="0.12" text-anchor="middle" textLength="21.8" lengthAdjust="spacingAndGlyphs">(°C)</text>
<text transform="translate(906 96.8) rotate(-90)" font-size="12.3" fill="#00008B" stroke="#00008B" stroke-width="0.12" text-anchor="middle" textLength="67.2" lengthAdjust="spacingAndGlyphs">temperatura</text>
<text transform="translate(893 97) rotate(-90)" font-size="12.3" fill="#00008B" stroke="#00008B" stroke-width="0.12" text-anchor="middle" textLength="21.8" lengthAdjust="spacingAndGlyphs">(°C)</text>
<text transform="translate(293.2 185) rotate(-90)" font-size="12.3" fill="#00008B" stroke="#00008B" stroke-width="0.12" text-anchor="middle" textLength="26.8" lengthAdjust="spacingAndGlyphs">opad</text>
<text transform="translate(306.4 185.5) rotate(-90)" font-size="12.3" fill="#00008B" stroke="#00008B" stroke-width="0.12" text-anchor="middle" textLength="85.8" lengthAdjust="spacingAndGlyphs">(mm/h, kg/m²/h)</text>
<text transform="translate(906 185.5) rotate(-90)" font-size="12.3" fill="#00008B" stroke="#00008B" stroke-width="0.12" text-anchor="middle" textLength="89.8" lengthAdjust="spacingAndGlyphs">wilgotność wzgl.</text>
<text transform="translate(893 185.5) rotate(-90)" font-size="12.3" fill="#00008B" stroke="#00008B" stroke-width="0.12" text-anchor="middle" textLength="17.8" lengthAdjust="spacingAndGlyphs">(%)</text>
<text transform="translate(293.2 272.8) rotate(-90)" font-size="12.3" fill="#00008B" stroke="#00008B" stroke-width="0.12" text-anchor="middle" textLength="48.4" lengthAdjust="spacingAndGlyphs">ciśnienie</text>
<text transform="translate(306.4 273) rotate(-90)" font-size="12.3" fill="#00008B" stroke="#00008B" stroke-width="0.12" text-anchor="middle" textLength="28.8" lengthAdjust="spacingAndGlyphs">(hPa)</text>
<text transform="translate(906 272.8) rotate(-90)" font-size="12.3" fill="#00008B" stroke="#00008B" stroke-width="0.12" text-anchor="middle" textLength="48.4" lengthAdjust="spacingAndGlyphs">ciśnienie</text>
<text transform="translate(893 273.5) rotate(-90)" font-size="12.3" fill="#00008B" stroke="#00008B" stroke-width="0.12" text-anchor="middle" textLength="47.8" lengthAdjust="spacingAndGlyphs">(mm Hg)</text>
<text transform="translate(293.2 361) rotate(-90)" font-size="12.3" fill="#00008B" stroke="#00008B" stroke-width="0.12" text-anchor="middle" textLength="26.8" lengthAdjust="spacingAndGlyphs">wiatr</text>
<text transform="translate(306.4 361) rotate(-90)" font-size="12.3" fill="#00008B" stroke="#00008B" stroke-width="0.12" text-anchor="middle" textLength="28.8" lengthAdjust="spacingAndGlyphs">(m/s)</text>
<text transform="translate(906 361) rotate(-90)" font-size="12.3" fill="#00008B" stroke="#00008B" stroke-width="0.12" text-anchor="middle" textLength="26.8" lengthAdjust="spacingAndGlyphs">wiatr</text>
<text transform="translate(893 361.5) rotate(-90)" font-size="12.3" fill="#00008B" stroke="#00008B" stroke-width="0.12" text-anchor="middle" textLength="33.8" lengthAdjust="spacingAndGlyphs">(km/h)</text>
<text transform="translate(293.2 474.5) rotate(-90)" font-size="12.3" fill="#00008B" stroke="#00008B" stroke-width="0.12" text-anchor="middle" textLength="103.8" lengthAdjust="spacingAndGlyphs">pion. rozciągł. chm.</text>
<text transform="translate(306.4 474) rotate(-90)" font-size="12.3" fill="#00008B" stroke="#00008B" stroke-width="0.12" text-anchor="middle" textLength="24.4" lengthAdjust="spacingAndGlyphs">(km)</text>
<text transform="translate(906 475.5) rotate(-90)" font-size="12.3" fill="#00008B" stroke="#00008B" stroke-width="0.12" text-anchor="middle" textLength="63.8" lengthAdjust="spacingAndGlyphs">widzialność</text>
<text transform="translate(893 474) rotate(-90)" font-size="12.3" fill="#00008B" stroke="#00008B" stroke-width="0.12" text-anchor="middle" textLength="24.4" lengthAdjust="spacingAndGlyphs">(km)</text>
<text transform="translate(293.2 572.5) rotate(-90)" font-size="12.3" fill="#00008B" stroke="#00008B" stroke-width="0.12" text-anchor="middle" textLength="75.8" lengthAdjust="spacingAndGlyphs">zachmurzenie</text>
<text transform="translate(306.4 562.5) rotate(-90)" font-size="12.3" fill="#00008B" stroke="#00008B" stroke-width="0.12" text-anchor="middle" textLength="46.3" lengthAdjust="spacingAndGlyphs">(oktanty)</text>
<text transform="translate(906 563) rotate(-90)" font-size="12.3" fill="#00008B" stroke="#00008B" stroke-width="0.12" text-anchor="middle" textLength="26.8" lengthAdjust="spacingAndGlyphs">mgła</text>
<text transform="translate(893 563) rotate(-90)" font-size="12.3" fill="#00008B" stroke="#00008B" stroke-width="0.12" text-anchor="middle" textLength="43.2" lengthAdjust="spacingAndGlyphs">(frakcja)</text>
<text x="283.6" y="420" font-size="12.6" fill="#00008B" stroke="#00008B" stroke-width="0.12">W</text>
<text x="294" y="410.6" font-size="10.6" fill="#00008B" stroke="#00008B" stroke-width="0.12">N</text>
<text x="301.4" y="420" font-size="11.9" fill="#00008B" stroke="#00008B" stroke-width="0.12">E</text>
<text x="294.4" y="428" font-size="11.8" fill="#00008B" stroke="#00008B" stroke-width="0.12">S</text>
<text x="882.6" y="420" font-size="12.6" fill="#00008B" stroke="#00008B" stroke-width="0.12">W</text>
<text x="893" y="410.6" font-size="10.6" fill="#00008B" stroke="#00008B" stroke-width="0.12">N</text>
<text x="900.4" y="420" font-size="11.9" fill="#00008B" stroke="#00008B" stroke-width="0.12">E</text>
<text x="893.4" y="428" font-size="11.8" fill="#00008B" stroke="#00008B" stroke-width="0.12">S</text>
</g>
</svg>
</body></html>
